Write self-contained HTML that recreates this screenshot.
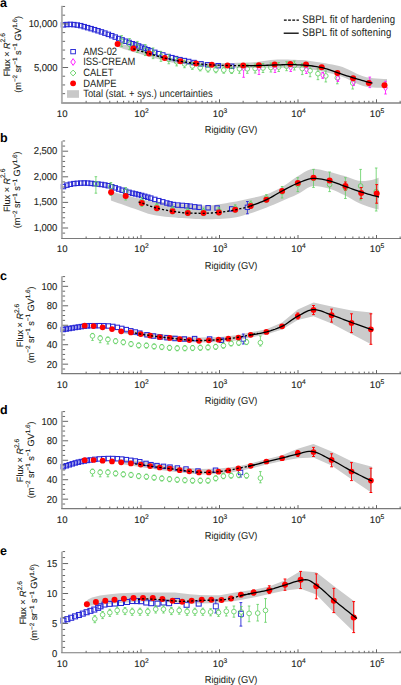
<!DOCTYPE html>
<html><head><meta charset="utf-8"><style>
html,body{margin:0;padding:0;background:#fff;}
svg{display:block;text-rendering:geometricPrecision;}
.t{font-family:"Liberation Sans", sans-serif;font-size:9.1px;fill:#231f20;stroke:#231f20;stroke-width:0.12px;}
.t2{font-family:"Liberation Sans", sans-serif;font-size:9.4px;fill:#231f20;}
.t3{font-family:"Liberation Sans", sans-serif;font-size:9.6px;letter-spacing:0.12px;fill:#231f20;stroke:#231f20;stroke-width:0.04px;}
.ty{font-family:"Liberation Sans", sans-serif;font-size:9.45px;fill:#231f20;stroke:#231f20;stroke-width:0.12px;}
.tx{font-family:"Liberation Sans", sans-serif;font-size:9.6px;fill:#231f20;stroke:#231f20;stroke-width:0.12px;}
.tr{font-family:"Liberation Sans", sans-serif;font-size:9.3px;fill:#231f20;stroke:#231f20;stroke-width:0.05px;}
.sup2{font-size:6.3px;}
.sup{font-size:6.7px;}
.L{font-family:"Liberation Sans", sans-serif;font-size:12.5px;font-weight:bold;fill:#000;}
</style></head><body>
<svg width="401" height="685" viewBox="0 0 401 685">
<path d="M117.00 42.00 L120.42 43.20 L123.84 44.38 L127.25 45.53 L130.67 46.65 L134.09 47.73 L137.51 48.77 L140.92 49.77 L144.34 50.76 L147.76 51.77 L151.18 52.78 L154.59 53.77 L158.01 54.74 L161.43 55.67 L164.85 56.55 L168.27 57.36 L171.68 58.10 L175.10 58.75 L178.52 59.30 L181.94 59.75 L185.35 60.19 L188.77 60.62 L192.19 61.04 L195.61 61.44 L199.03 61.80 L202.44 62.13 L205.86 62.42 L209.28 62.65 L212.70 62.83 L216.11 62.95 L219.53 63.00 L222.95 62.99 L226.37 62.97 L229.78 62.94 L233.20 62.89 L236.62 62.83 L240.04 62.76 L243.46 62.68 L246.87 62.59 L250.29 62.49 L253.71 62.29 L257.13 61.95 L260.54 61.52 L263.96 61.04 L267.38 60.56 L270.80 60.12 L274.22 59.77 L277.63 59.55 L281.05 59.50 L284.47 59.53 L287.89 59.59 L291.30 59.68 L294.72 59.79 L298.14 59.92 L301.56 60.08 L304.97 60.36 L308.39 60.76 L311.81 61.24 L315.23 61.76 L318.65 62.29 L322.06 62.82 L325.48 63.36 L328.90 63.95 L332.32 64.59 L335.73 65.30 L339.15 66.09 L342.57 67.07 L345.99 68.42 L349.41 70.02 L352.82 71.74 L356.24 73.46 L359.66 75.03 L363.08 76.34 L366.49 77.26 L369.91 77.74 L373.33 78.14 L376.75 78.48 L380.16 78.76 L383.58 78.94 L387.00 79.00 L387.00 88.00 L383.58 87.96 L380.16 87.84 L376.75 87.67 L373.33 87.44 L369.91 87.17 L366.49 86.81 L363.08 86.02 L359.66 84.82 L356.24 83.32 L352.82 81.66 L349.41 79.96 L345.99 78.32 L342.57 76.88 L339.15 75.75 L335.73 74.75 L332.32 73.81 L328.90 72.94 L325.48 72.13 L322.06 71.40 L318.65 70.74 L315.23 70.07 L311.81 69.42 L308.39 68.84 L304.97 68.37 L301.56 68.07 L298.14 67.95 L294.72 67.87 L291.30 67.80 L287.89 67.75 L284.47 67.72 L281.05 67.70 L277.63 67.71 L274.22 67.73 L270.80 67.77 L267.38 67.81 L263.96 67.87 L260.54 67.91 L257.13 67.96 L253.71 67.99 L250.29 68.00 L246.87 67.99 L243.46 67.97 L240.04 67.93 L236.62 67.88 L233.20 67.82 L229.78 67.75 L226.37 67.67 L222.95 67.58 L219.53 67.49 L216.11 67.36 L212.70 67.19 L209.28 66.97 L205.86 66.71 L202.44 66.42 L199.03 66.09 L195.61 65.73 L192.19 65.34 L188.77 64.93 L185.35 64.50 L181.94 64.06 L178.52 63.59 L175.10 63.04 L171.68 62.39 L168.27 61.67 L164.85 60.87 L161.43 60.02 L158.01 59.12 L154.59 58.18 L151.18 57.21 L147.76 56.23 L144.34 55.24 L140.92 54.26 L137.51 53.28 L134.09 52.25 L130.67 51.17 L127.25 50.04 L123.84 48.89 L120.42 47.71 L117.00 46.50Z" fill="#cbcbcb"/>
<rect x="61.30" y="22.66" width="4.4" height="4.4" fill="none" stroke="#2727d6" stroke-width="1.05"/>
<rect x="64.75" y="22.33" width="4.4" height="4.4" fill="none" stroke="#2727d6" stroke-width="1.05"/>
<rect x="68.20" y="22.20" width="4.4" height="4.4" fill="none" stroke="#2727d6" stroke-width="1.05"/>
<rect x="71.65" y="22.41" width="4.4" height="4.4" fill="none" stroke="#2727d6" stroke-width="1.05"/>
<rect x="75.10" y="22.86" width="4.4" height="4.4" fill="none" stroke="#2727d6" stroke-width="1.05"/>
<rect x="78.55" y="23.45" width="4.4" height="4.4" fill="none" stroke="#2727d6" stroke-width="1.05"/>
<rect x="82.00" y="24.46" width="4.4" height="4.4" fill="none" stroke="#2727d6" stroke-width="1.05"/>
<rect x="85.45" y="25.46" width="4.4" height="4.4" fill="none" stroke="#2727d6" stroke-width="1.05"/>
<rect x="88.90" y="26.45" width="4.4" height="4.4" fill="none" stroke="#2727d6" stroke-width="1.05"/>
<rect x="92.35" y="27.48" width="4.4" height="4.4" fill="none" stroke="#2727d6" stroke-width="1.05"/>
<rect x="95.80" y="28.56" width="4.4" height="4.4" fill="none" stroke="#2727d6" stroke-width="1.05"/>
<rect x="99.25" y="29.71" width="4.4" height="4.4" fill="none" stroke="#2727d6" stroke-width="1.05"/>
<rect x="102.70" y="30.92" width="4.4" height="4.4" fill="none" stroke="#2727d6" stroke-width="1.05"/>
<rect x="106.15" y="32.18" width="4.4" height="4.4" fill="none" stroke="#2727d6" stroke-width="1.05"/>
<rect x="109.60" y="33.49" width="4.4" height="4.4" fill="none" stroke="#2727d6" stroke-width="1.05"/>
<rect x="113.05" y="34.89" width="4.4" height="4.4" fill="none" stroke="#2727d6" stroke-width="1.05"/>
<rect x="116.50" y="36.32" width="4.4" height="4.4" fill="none" stroke="#2727d6" stroke-width="1.05"/>
<rect x="119.95" y="37.70" width="4.4" height="4.4" fill="none" stroke="#2727d6" stroke-width="1.05"/>
<rect x="123.40" y="39.01" width="4.4" height="4.4" fill="none" stroke="#2727d6" stroke-width="1.05"/>
<rect x="126.85" y="40.27" width="4.4" height="4.4" fill="none" stroke="#2727d6" stroke-width="1.05"/>
<rect x="130.30" y="41.54" width="4.4" height="4.4" fill="none" stroke="#2727d6" stroke-width="1.05"/>
<rect x="133.35" y="42.65" width="4.4" height="4.4" fill="none" stroke="#2727d6" stroke-width="1.05"/>
<rect x="136.40" y="43.77" width="4.4" height="4.4" fill="none" stroke="#2727d6" stroke-width="1.05"/>
<rect x="139.45" y="44.96" width="4.4" height="4.4" fill="none" stroke="#2727d6" stroke-width="1.05"/>
<rect x="142.50" y="46.24" width="4.4" height="4.4" fill="none" stroke="#2727d6" stroke-width="1.05"/>
<rect x="145.55" y="47.52" width="4.4" height="4.4" fill="none" stroke="#2727d6" stroke-width="1.05"/>
<rect x="148.60" y="48.70" width="4.4" height="4.4" fill="none" stroke="#2727d6" stroke-width="1.05"/>
<rect x="152.60" y="50.13" width="4.4" height="4.4" fill="none" stroke="#2727d6" stroke-width="1.05"/>
<rect x="156.60" y="51.48" width="4.4" height="4.4" fill="none" stroke="#2727d6" stroke-width="1.05"/>
<rect x="160.60" y="52.76" width="4.4" height="4.4" fill="none" stroke="#2727d6" stroke-width="1.05"/>
<rect x="165.80" y="54.33" width="4.4" height="4.4" fill="none" stroke="#2727d6" stroke-width="1.05"/>
<rect x="169.70" y="55.44" width="4.4" height="4.4" fill="none" stroke="#2727d6" stroke-width="1.05"/>
<rect x="173.40" y="56.40" width="4.4" height="4.4" fill="none" stroke="#2727d6" stroke-width="1.05"/>
<rect x="177.80" y="57.44" width="4.4" height="4.4" fill="none" stroke="#2727d6" stroke-width="1.05"/>
<rect x="182.20" y="58.39" width="4.4" height="4.4" fill="none" stroke="#2727d6" stroke-width="1.05"/>
<rect x="186.50" y="59.29" width="4.4" height="4.4" fill="none" stroke="#2727d6" stroke-width="1.05"/>
<rect x="191.80" y="60.35" width="4.4" height="4.4" fill="none" stroke="#2727d6" stroke-width="1.05"/>
<rect x="198.80" y="61.60" width="4.4" height="4.4" fill="none" stroke="#2727d6" stroke-width="1.05"/>
<rect x="205.50" y="62.60" width="4.4" height="4.4" fill="none" stroke="#2727d6" stroke-width="1.05"/>
<rect x="216.00" y="63.50" width="4.4" height="4.4" fill="none" stroke="#2727d6" stroke-width="1.05"/>
<rect x="229.50" y="64.10" width="4.4" height="4.4" fill="none" stroke="#2727d6" stroke-width="1.05"/>
<path d="M121.70 35.63V38.88M121.70 43.58V46.63M120.40 35.63h2.6M120.40 46.63h2.6" stroke="#5fcf5f" stroke-width="0.8"/>
<circle cx="121.70" cy="41.23" r="2.35" fill="none" stroke="#5fcf5f" stroke-width="0.85"/>
<path d="M129.55 38.56V41.81M129.55 46.51V49.56M128.25 38.56h2.6M128.25 49.56h2.6" stroke="#5fcf5f" stroke-width="0.8"/>
<circle cx="129.55" cy="44.16" r="2.35" fill="none" stroke="#5fcf5f" stroke-width="0.85"/>
<path d="M137.40 41.42V44.67M137.40 49.37V52.42M136.10 41.42h2.6M136.10 52.42h2.6" stroke="#5fcf5f" stroke-width="0.8"/>
<circle cx="137.40" cy="47.02" r="2.35" fill="none" stroke="#5fcf5f" stroke-width="0.85"/>
<path d="M145.25 44.57V47.82M145.25 52.52V55.57M143.95 44.57h2.6M143.95 55.57h2.6" stroke="#5fcf5f" stroke-width="0.8"/>
<circle cx="145.25" cy="50.17" r="2.35" fill="none" stroke="#5fcf5f" stroke-width="0.85"/>
<path d="M153.10 47.95V51.04M153.10 55.74V58.65M151.80 47.95h2.6M151.80 58.65h2.6" stroke="#5fcf5f" stroke-width="0.8"/>
<circle cx="153.10" cy="53.39" r="2.35" fill="none" stroke="#5fcf5f" stroke-width="0.85"/>
<path d="M160.95 51.41V54.09M160.95 58.79V61.34M159.65 51.41h2.6M159.65 61.34h2.6" stroke="#5fcf5f" stroke-width="0.8"/>
<circle cx="160.95" cy="56.44" r="2.35" fill="none" stroke="#5fcf5f" stroke-width="0.85"/>
<path d="M168.80 54.62V56.89M168.80 61.59V63.78M167.50 54.62h2.6M167.50 63.78h2.6" stroke="#5fcf5f" stroke-width="0.8"/>
<circle cx="168.80" cy="59.24" r="2.35" fill="none" stroke="#5fcf5f" stroke-width="0.85"/>
<path d="M176.65 57.53V59.39M176.65 64.09V65.92M175.35 57.53h2.6M175.35 65.92h2.6" stroke="#5fcf5f" stroke-width="0.8"/>
<circle cx="176.65" cy="61.74" r="2.35" fill="none" stroke="#5fcf5f" stroke-width="0.85"/>
<path d="M184.50 60.10V61.56M184.50 66.26V67.72M183.20 60.10h2.6M183.20 67.72h2.6" stroke="#5fcf5f" stroke-width="0.8"/>
<circle cx="184.50" cy="63.91" r="2.35" fill="none" stroke="#5fcf5f" stroke-width="0.85"/>
<path d="M192.35 62.53V63.58M192.35 68.28V69.38M191.05 62.53h2.6M191.05 69.38h2.6" stroke="#5fcf5f" stroke-width="0.8"/>
<circle cx="192.35" cy="65.93" r="2.35" fill="none" stroke="#5fcf5f" stroke-width="0.85"/>
<path d="M200.20 64.77V65.42M200.20 70.12V70.87M198.90 64.77h2.6M198.90 70.87h2.6" stroke="#5fcf5f" stroke-width="0.8"/>
<circle cx="200.20" cy="67.77" r="2.35" fill="none" stroke="#5fcf5f" stroke-width="0.85"/>
<path d="M208.05 65.94V66.59M208.05 71.29V72.04M206.75 65.94h2.6M206.75 72.04h2.6" stroke="#5fcf5f" stroke-width="0.8"/>
<circle cx="208.05" cy="68.94" r="2.35" fill="none" stroke="#5fcf5f" stroke-width="0.85"/>
<path d="M215.90 66.65V67.30M215.90 72.00V72.75M214.60 66.65h2.6M214.60 72.75h2.6" stroke="#5fcf5f" stroke-width="0.8"/>
<circle cx="215.90" cy="69.65" r="2.35" fill="none" stroke="#5fcf5f" stroke-width="0.85"/>
<path d="M223.75 67.11V67.76M223.75 72.46V73.21M222.45 67.11h2.6M222.45 73.21h2.6" stroke="#5fcf5f" stroke-width="0.8"/>
<circle cx="223.75" cy="70.11" r="2.35" fill="none" stroke="#5fcf5f" stroke-width="0.85"/>
<path d="M231.60 67.40V68.05M231.60 72.75V73.50M230.30 67.40h2.6M230.30 73.50h2.6" stroke="#5fcf5f" stroke-width="0.8"/>
<circle cx="231.60" cy="70.40" r="2.35" fill="none" stroke="#5fcf5f" stroke-width="0.85"/>
<path d="M239.45 64.30V66.45M239.45 71.15V73.30M238.15 64.30h2.6M238.15 73.30h2.6" stroke="#5fcf5f" stroke-width="0.8"/>
<circle cx="239.45" cy="68.80" r="2.35" fill="none" stroke="#5fcf5f" stroke-width="0.85"/>
<path d="M247.30 64.30V66.45M247.30 71.15V73.30M246.00 64.30h2.6M246.00 73.30h2.6" stroke="#5fcf5f" stroke-width="0.8"/>
<circle cx="247.30" cy="68.80" r="2.35" fill="none" stroke="#5fcf5f" stroke-width="0.85"/>
<path d="M255.15 64.04V66.19M255.15 70.89V73.04M253.85 64.04h2.6M253.85 73.04h2.6" stroke="#5fcf5f" stroke-width="0.8"/>
<circle cx="255.15" cy="68.54" r="2.35" fill="none" stroke="#5fcf5f" stroke-width="0.85"/>
<path d="M263.00 63.50V65.65M263.00 70.35V72.50M261.70 63.50h2.6M261.70 72.50h2.6" stroke="#5fcf5f" stroke-width="0.8"/>
<circle cx="263.00" cy="68.00" r="2.35" fill="none" stroke="#5fcf5f" stroke-width="0.85"/>
<path d="M270.85 63.01V65.16M270.85 69.86V72.01M269.55 63.01h2.6M269.55 72.01h2.6" stroke="#5fcf5f" stroke-width="0.8"/>
<circle cx="270.85" cy="67.51" r="2.35" fill="none" stroke="#5fcf5f" stroke-width="0.85"/>
<path d="M278.70 62.52V64.67M278.70 69.37V71.52M277.40 62.52h2.6M277.40 71.52h2.6" stroke="#5fcf5f" stroke-width="0.8"/>
<circle cx="278.70" cy="67.02" r="2.35" fill="none" stroke="#5fcf5f" stroke-width="0.85"/>
<path d="M286.55 61.70V63.85M286.55 68.55V70.70M285.25 61.70h2.6M285.25 70.70h2.6" stroke="#5fcf5f" stroke-width="0.8"/>
<circle cx="286.55" cy="66.20" r="2.35" fill="none" stroke="#5fcf5f" stroke-width="0.85"/>
<path d="M294.40 61.00V63.15M294.40 67.85V70.00M293.10 61.00h2.6M293.10 70.00h2.6" stroke="#5fcf5f" stroke-width="0.8"/>
<circle cx="294.40" cy="65.50" r="2.35" fill="none" stroke="#5fcf5f" stroke-width="0.85"/>
<path d="M302.25 63.58V66.23M302.25 70.93V74.58M300.95 63.58h2.6M300.95 74.58h2.6" stroke="#5fcf5f" stroke-width="0.8"/>
<circle cx="302.25" cy="68.58" r="2.35" fill="none" stroke="#5fcf5f" stroke-width="0.85"/>
<path d="M310.10 65.73V68.38M310.10 73.08V76.73M308.80 65.73h2.6M308.80 76.73h2.6" stroke="#5fcf5f" stroke-width="0.8"/>
<circle cx="310.10" cy="70.73" r="2.35" fill="none" stroke="#5fcf5f" stroke-width="0.85"/>
<path d="M317.95 68.68V71.33M317.95 76.03V79.68M316.65 68.68h2.6M316.65 79.68h2.6" stroke="#5fcf5f" stroke-width="0.8"/>
<circle cx="317.95" cy="73.68" r="2.35" fill="none" stroke="#5fcf5f" stroke-width="0.85"/>
<path d="M325.80 70.96V73.61M325.80 78.31V81.96M324.50 70.96h2.6M324.50 81.96h2.6" stroke="#5fcf5f" stroke-width="0.8"/>
<circle cx="325.80" cy="75.96" r="2.35" fill="none" stroke="#5fcf5f" stroke-width="0.85"/>
<path d="M337.30 72.80V75.45M337.30 80.15V83.80M336.00 72.80h2.6M336.00 83.80h2.6" stroke="#5fcf5f" stroke-width="0.8"/>
<circle cx="337.30" cy="77.80" r="2.35" fill="none" stroke="#5fcf5f" stroke-width="0.85"/>
<path d="M352.70 78.00V80.65M352.70 85.35V89.00M351.40 78.00h2.6M351.40 89.00h2.6" stroke="#5fcf5f" stroke-width="0.8"/>
<circle cx="352.70" cy="83.00" r="2.35" fill="none" stroke="#5fcf5f" stroke-width="0.85"/>
<path d="M243.60 64.00V65.20M243.60 71.20V77.30M242.30 64.00h2.6M242.30 77.30h2.6" stroke="#ff22ff" stroke-width="0.9"/>
<path d="M243.60 65.20L245.50 68.20L243.60 71.20L241.70 68.20Z" fill="none" stroke="#ff22ff" stroke-width="0.9"/>
<path d="M259.00 64.00V65.00M259.00 71.00V74.50M257.70 64.00h2.6M257.70 74.50h2.6" stroke="#ff22ff" stroke-width="0.9"/>
<path d="M259.00 65.00L260.90 68.00L259.00 71.00L257.10 68.00Z" fill="none" stroke="#ff22ff" stroke-width="0.9"/>
<path d="M275.00 63.50V64.80M275.00 70.80V72.50M273.70 63.50h2.6M273.70 72.50h2.6" stroke="#ff22ff" stroke-width="0.9"/>
<path d="M275.00 64.80L276.90 67.80L275.00 70.80L273.10 67.80Z" fill="none" stroke="#ff22ff" stroke-width="0.9"/>
<path d="M290.70 65.00V64.50M290.70 70.50V71.50M289.40 65.00h2.6M289.40 71.50h2.6" stroke="#ff22ff" stroke-width="0.9"/>
<path d="M290.70 64.50L292.60 67.50L290.70 70.50L288.80 67.50Z" fill="none" stroke="#ff22ff" stroke-width="0.9"/>
<path d="M306.40 67.00V66.50M306.40 72.50V73.50M305.10 67.00h2.6M305.10 73.50h2.6" stroke="#ff22ff" stroke-width="0.9"/>
<path d="M306.40 66.50L308.30 69.50L306.40 72.50L304.50 69.50Z" fill="none" stroke="#ff22ff" stroke-width="0.9"/>
<path d="M322.70 72.50V72.20M322.70 78.20V78.30M321.40 72.50h2.6M321.40 78.30h2.6" stroke="#ff22ff" stroke-width="0.9"/>
<path d="M322.70 72.20L324.60 75.20L322.70 78.20L320.80 75.20Z" fill="none" stroke="#ff22ff" stroke-width="0.9"/>
<path d="M337.90 75.50V75.30M337.90 81.30V81.50M336.60 75.50h2.6M336.60 81.50h2.6" stroke="#ff22ff" stroke-width="0.9"/>
<path d="M337.90 75.30L339.80 78.30L337.90 81.30L336.00 78.30Z" fill="none" stroke="#ff22ff" stroke-width="0.9"/>
<path d="M353.60 78.50V78.80M353.60 84.80V85.50M352.30 78.50h2.6M352.30 85.50h2.6" stroke="#ff22ff" stroke-width="0.9"/>
<path d="M353.60 78.80L355.50 81.80L353.60 84.80L351.70 81.80Z" fill="none" stroke="#ff22ff" stroke-width="0.9"/>
<path d="M369.80 77.10V79.70M369.80 85.70V87.60M368.50 77.10h2.6M368.50 87.60h2.6" stroke="#ff22ff" stroke-width="0.9"/>
<path d="M369.80 79.70L371.70 82.70L369.80 85.70L367.90 82.70Z" fill="none" stroke="#ff22ff" stroke-width="0.9"/>
<path d="M385.50 81.30V84.90M385.50 90.90V94.00M384.20 81.30h2.6M384.20 94.00h2.6" stroke="#ff22ff" stroke-width="0.9"/>
<path d="M385.50 84.90L387.40 87.90L385.50 90.90L383.60 87.90Z" fill="none" stroke="#ff22ff" stroke-width="0.9"/>
<circle cx="117.60" cy="44.00" r="3.0" fill="#ff0000"/>
<circle cx="133.30" cy="48.60" r="3.0" fill="#ff0000"/>
<circle cx="149.00" cy="53.50" r="3.0" fill="#ff0000"/>
<circle cx="164.70" cy="58.00" r="3.0" fill="#ff0000"/>
<circle cx="180.40" cy="61.30" r="3.0" fill="#ff0000"/>
<circle cx="196.10" cy="63.60" r="3.0" fill="#ff0000"/>
<circle cx="211.80" cy="64.80" r="3.0" fill="#ff0000"/>
<circle cx="227.50" cy="65.50" r="3.0" fill="#ff0000"/>
<circle cx="243.20" cy="65.50" r="3.0" fill="#ff0000"/>
<circle cx="258.90" cy="65.20" r="3.0" fill="#ff0000"/>
<circle cx="274.60" cy="64.40" r="3.0" fill="#ff0000"/>
<circle cx="290.30" cy="64.00" r="3.0" fill="#ff0000"/>
<circle cx="306.00" cy="64.40" r="3.0" fill="#ff0000"/>
<circle cx="321.70" cy="67.20" r="3.0" fill="#ff0000"/>
<circle cx="337.40" cy="73.10" r="3.0" fill="#ff0000"/>
<circle cx="353.10" cy="78.30" r="3.0" fill="#ff0000"/>
<circle cx="368.80" cy="83.00" r="3.0" fill="#ff0000"/>
<circle cx="384.50" cy="85.20" r="3.0" fill="#ff0000"/>
<path d="M133.30 48.80 L135.38 49.46 L137.46 50.11 L139.54 50.76 L141.62 51.39 L143.70 52.03 L145.78 52.65 L147.86 53.26 L149.94 53.87 L152.02 54.49 L154.10 55.10 L156.18 55.71 L158.26 56.30 L160.34 56.88 L162.42 57.43 L164.49 57.95 L166.57 58.45 L168.65 58.93 L170.73 59.39 L172.81 59.84 L174.89 60.27 L176.97 60.68 L179.05 61.06 L181.13 61.43 L183.21 61.78 L185.29 62.12 L187.37 62.45 L189.45 62.76 L191.53 63.05 L193.61 63.32 L195.69 63.56 L197.77 63.77 L199.85 63.98 L201.93 64.18 L204.01 64.36 L206.09 64.53 L208.17 64.68 L210.25 64.81 L212.33 64.93 L214.41 65.03 L216.49 65.13 L218.57 65.22 L220.65 65.30 L222.73 65.38 L224.81 65.44 L226.88 65.49 L228.96 65.53 L231.04 65.57 L233.12 65.60 L235.20 65.64 L237.28 65.66 L239.36 65.68 L241.44 65.70 L243.52 65.70 L245.60 65.70 L247.68 65.69 L249.76 65.68 L251.84 65.66 L253.92 65.63 L256.00 65.60" fill="none" stroke="#000" stroke-width="1.3" stroke-dasharray="2.2,1.9"/>
<path d="M246.00 65.70 L248.14 65.68 L250.29 65.65 L252.43 65.62 L254.58 65.58 L256.72 65.54 L258.86 65.50 L261.01 65.45 L263.15 65.39 L265.30 65.32 L267.44 65.24 L269.58 65.16 L271.73 65.09 L273.87 65.02 L276.02 64.96 L278.16 64.89 L280.31 64.81 L282.45 64.74 L284.59 64.68 L286.74 64.63 L288.88 64.61 L291.03 64.60 L293.17 64.63 L295.31 64.69 L297.46 64.78 L299.60 64.89 L301.75 65.02 L303.89 65.16 L306.03 65.30 L308.18 65.48 L310.32 65.71 L312.47 65.99 L314.61 66.31 L316.75 66.67 L318.90 67.06 L321.04 67.47 L323.19 67.93 L325.33 68.50 L327.47 69.16 L329.62 69.88 L331.76 70.64 L333.91 71.40 L336.05 72.15 L338.19 72.86 L340.34 73.57 L342.48 74.30 L344.63 75.03 L346.77 75.76 L348.92 76.47 L351.06 77.17 L353.20 77.83 L355.35 78.48 L357.49 79.11 L359.64 79.73 L361.78 80.35 L363.92 80.94 L366.07 81.53 L368.21 82.10 L370.36 82.66 L372.50 83.20" fill="none" stroke="#000" stroke-width="1.3"/>
<path d="M110.90 191.50 L114.29 192.34 L117.68 193.18 L121.07 194.02 L124.45 194.86 L127.84 195.72 L131.23 196.58 L134.62 197.44 L138.01 198.28 L141.40 199.09 L144.79 199.95 L148.17 200.71 L151.56 201.18 L154.95 201.47 L158.34 201.71 L161.73 201.98 L165.12 202.32 L168.51 202.71 L171.89 203.13 L175.28 203.55 L178.67 203.94 L182.06 204.28 L185.45 204.53 L188.84 204.75 L192.23 204.96 L195.62 205.16 L199.00 205.32 L202.39 205.44 L205.78 205.50 L209.17 205.45 L212.56 205.22 L215.95 204.83 L219.34 204.32 L222.72 203.75 L226.11 203.15 L229.50 202.58 L232.89 202.02 L236.28 201.40 L239.67 200.73 L243.06 200.02 L246.44 199.29 L249.83 198.54 L253.22 197.79 L256.61 197.04 L260.00 196.22 L263.39 195.29 L266.78 194.20 L270.16 192.88 L273.55 191.37 L276.94 189.70 L280.33 187.91 L283.72 185.98 L287.11 183.66 L290.50 181.13 L293.88 178.63 L297.27 176.42 L300.66 174.42 L304.05 172.32 L307.44 170.44 L310.83 169.16 L314.22 168.81 L317.61 169.14 L320.99 169.81 L324.38 170.66 L327.77 171.56 L331.16 172.37 L334.55 173.24 L337.94 174.17 L341.33 175.13 L344.71 176.10 L348.10 177.19 L351.49 178.51 L354.88 179.78 L358.27 180.70 L361.66 181.00 L365.05 180.88 L368.43 180.54 L371.82 179.94 L375.21 179.00 L378.60 177.70 L378.60 209.60 L375.21 208.79 L371.82 207.82 L368.43 206.71 L365.05 205.49 L361.66 204.18 L358.27 202.68 L354.88 200.89 L351.49 198.97 L348.10 197.08 L344.71 195.37 L341.33 193.68 L337.94 192.01 L334.55 190.48 L331.16 189.24 L327.77 188.34 L324.38 187.51 L320.99 186.79 L317.61 186.26 L314.22 186.01 L310.83 186.45 L307.44 188.03 L304.05 190.23 L300.66 192.51 L297.27 194.34 L293.88 195.89 L290.50 197.37 L287.11 198.82 L283.72 200.26 L280.33 201.72 L276.94 203.20 L273.55 204.67 L270.16 206.12 L266.78 207.50 L263.39 208.82 L260.00 210.11 L256.61 211.36 L253.22 212.51 L249.83 213.55 L246.44 214.54 L243.06 215.52 L239.67 216.45 L236.28 217.25 L232.89 217.87 L229.50 218.24 L226.11 218.50 L222.72 218.74 L219.34 218.94 L215.95 219.10 L212.56 219.22 L209.17 219.29 L205.78 219.29 L202.39 219.23 L199.00 219.11 L195.62 218.94 L192.23 218.75 L188.84 218.54 L185.45 218.33 L182.06 218.12 L178.67 217.88 L175.28 217.62 L171.89 217.33 L168.51 217.01 L165.12 216.66 L161.73 216.27 L158.34 215.81 L154.95 215.24 L151.56 214.56 L148.17 213.69 L144.79 212.45 L141.40 211.14 L138.01 209.96 L134.62 208.81 L131.23 207.65 L127.84 206.49 L124.45 205.31 L121.07 204.10 L117.68 202.88 L114.29 201.65 L110.90 200.40Z" fill="#cbcbcb"/>
<rect x="61.30" y="184.36" width="4.4" height="4.4" fill="none" stroke="#2727d6" stroke-width="1.05"/>
<rect x="64.75" y="182.96" width="4.4" height="4.4" fill="none" stroke="#2727d6" stroke-width="1.05"/>
<rect x="68.20" y="182.06" width="4.4" height="4.4" fill="none" stroke="#2727d6" stroke-width="1.05"/>
<rect x="71.65" y="181.42" width="4.4" height="4.4" fill="none" stroke="#2727d6" stroke-width="1.05"/>
<rect x="75.10" y="181.12" width="4.4" height="4.4" fill="none" stroke="#2727d6" stroke-width="1.05"/>
<rect x="78.55" y="180.91" width="4.4" height="4.4" fill="none" stroke="#2727d6" stroke-width="1.05"/>
<rect x="82.00" y="180.80" width="4.4" height="4.4" fill="none" stroke="#2727d6" stroke-width="1.05"/>
<rect x="85.45" y="180.89" width="4.4" height="4.4" fill="none" stroke="#2727d6" stroke-width="1.05"/>
<rect x="88.90" y="181.19" width="4.4" height="4.4" fill="none" stroke="#2727d6" stroke-width="1.05"/>
<rect x="92.35" y="181.56" width="4.4" height="4.4" fill="none" stroke="#2727d6" stroke-width="1.05"/>
<rect x="95.80" y="181.89" width="4.4" height="4.4" fill="none" stroke="#2727d6" stroke-width="1.05"/>
<rect x="99.25" y="182.28" width="4.4" height="4.4" fill="none" stroke="#2727d6" stroke-width="1.05"/>
<rect x="102.70" y="182.78" width="4.4" height="4.4" fill="none" stroke="#2727d6" stroke-width="1.05"/>
<rect x="106.15" y="183.55" width="4.4" height="4.4" fill="none" stroke="#2727d6" stroke-width="1.05"/>
<rect x="109.60" y="184.54" width="4.4" height="4.4" fill="none" stroke="#2727d6" stroke-width="1.05"/>
<rect x="113.05" y="185.65" width="4.4" height="4.4" fill="none" stroke="#2727d6" stroke-width="1.05"/>
<rect x="116.50" y="186.87" width="4.4" height="4.4" fill="none" stroke="#2727d6" stroke-width="1.05"/>
<rect x="119.95" y="188.00" width="4.4" height="4.4" fill="none" stroke="#2727d6" stroke-width="1.05"/>
<rect x="123.40" y="189.11" width="4.4" height="4.4" fill="none" stroke="#2727d6" stroke-width="1.05"/>
<rect x="126.85" y="190.14" width="4.4" height="4.4" fill="none" stroke="#2727d6" stroke-width="1.05"/>
<rect x="130.30" y="191.03" width="4.4" height="4.4" fill="none" stroke="#2727d6" stroke-width="1.05"/>
<rect x="133.35" y="191.73" width="4.4" height="4.4" fill="none" stroke="#2727d6" stroke-width="1.05"/>
<rect x="136.40" y="192.45" width="4.4" height="4.4" fill="none" stroke="#2727d6" stroke-width="1.05"/>
<rect x="139.45" y="193.24" width="4.4" height="4.4" fill="none" stroke="#2727d6" stroke-width="1.05"/>
<rect x="142.50" y="194.12" width="4.4" height="4.4" fill="none" stroke="#2727d6" stroke-width="1.05"/>
<rect x="145.55" y="195.02" width="4.4" height="4.4" fill="none" stroke="#2727d6" stroke-width="1.05"/>
<rect x="148.60" y="195.94" width="4.4" height="4.4" fill="none" stroke="#2727d6" stroke-width="1.05"/>
<rect x="152.60" y="197.21" width="4.4" height="4.4" fill="none" stroke="#2727d6" stroke-width="1.05"/>
<rect x="156.60" y="198.45" width="4.4" height="4.4" fill="none" stroke="#2727d6" stroke-width="1.05"/>
<rect x="160.60" y="199.61" width="4.4" height="4.4" fill="none" stroke="#2727d6" stroke-width="1.05"/>
<rect x="164.60" y="200.80" width="4.4" height="4.4" fill="none" stroke="#2727d6" stroke-width="1.05"/>
<rect x="167.80" y="201.65" width="4.4" height="4.4" fill="none" stroke="#2727d6" stroke-width="1.05"/>
<rect x="171.20" y="202.36" width="4.4" height="4.4" fill="none" stroke="#2727d6" stroke-width="1.05"/>
<rect x="175.60" y="202.89" width="4.4" height="4.4" fill="none" stroke="#2727d6" stroke-width="1.05"/>
<rect x="180.10" y="203.23" width="4.4" height="4.4" fill="none" stroke="#2727d6" stroke-width="1.05"/>
<rect x="184.60" y="203.60" width="4.4" height="4.4" fill="none" stroke="#2727d6" stroke-width="1.05"/>
<rect x="188.00" y="204.01" width="4.4" height="4.4" fill="none" stroke="#2727d6" stroke-width="1.05"/>
<rect x="192.50" y="204.64" width="4.4" height="4.4" fill="none" stroke="#2727d6" stroke-width="1.05"/>
<rect x="196.90" y="205.11" width="4.4" height="4.4" fill="none" stroke="#2727d6" stroke-width="1.05"/>
<rect x="205.90" y="205.60" width="4.4" height="4.4" fill="none" stroke="#2727d6" stroke-width="1.05"/>
<rect x="214.90" y="205.80" width="4.4" height="4.4" fill="none" stroke="#2727d6" stroke-width="1.05"/>
<rect x="229.50" y="206.70" width="4.4" height="4.4" fill="none" stroke="#2727d6" stroke-width="1.05"/>
<path d="M247.40 201.50V205.10M247.40 209.50V213.80M246.00 201.50h2.8M246.00 213.80h2.8" stroke="#2727d6" stroke-width="0.9"/>
<rect x="245.20" y="205.10" width="4.4" height="4.4" fill="none" stroke="#2727d6" stroke-width="0.9"/>
<path d="M95.90 176.70V181.45M95.90 186.15V193.20M94.60 176.70h2.6M94.60 193.20h2.6" stroke="#5fcf5f" stroke-width="0.8"/>
<circle cx="95.90" cy="183.80" r="2.35" fill="none" stroke="#5fcf5f" stroke-width="0.85"/>
<path d="M110.90 182.50V184.15M110.90 188.85V195.50M109.60 182.50h2.6M109.60 195.50h2.6" stroke="#5fcf5f" stroke-width="0.8"/>
<circle cx="110.90" cy="186.50" r="2.35" fill="none" stroke="#5fcf5f" stroke-width="0.85"/>
<path d="M125.70 187.50V189.05M125.70 193.75V200.00M124.40 187.50h2.6M124.40 200.00h2.6" stroke="#5fcf5f" stroke-width="0.8"/>
<circle cx="125.70" cy="191.40" r="2.35" fill="none" stroke="#5fcf5f" stroke-width="0.85"/>
<path d="M141.80 197.50V199.15M141.80 203.85V206.50M140.50 197.50h2.6M140.50 206.50h2.6" stroke="#5fcf5f" stroke-width="0.8"/>
<circle cx="141.80" cy="201.50" r="2.35" fill="none" stroke="#5fcf5f" stroke-width="0.85"/>
<path d="M156.80 203.20V204.35M156.80 209.05V210.70M155.50 203.20h2.6M155.50 210.70h2.6" stroke="#5fcf5f" stroke-width="0.8"/>
<circle cx="156.80" cy="206.70" r="2.35" fill="none" stroke="#5fcf5f" stroke-width="0.85"/>
<path d="M172.50 206.30V207.45M172.50 212.15V213.80M171.20 206.30h2.6M171.20 213.80h2.6" stroke="#5fcf5f" stroke-width="0.8"/>
<circle cx="172.50" cy="209.80" r="2.35" fill="none" stroke="#5fcf5f" stroke-width="0.85"/>
<path d="M187.80 208.10V209.25M187.80 213.95V215.60M186.50 208.10h2.6M186.50 215.60h2.6" stroke="#5fcf5f" stroke-width="0.8"/>
<circle cx="187.80" cy="211.60" r="2.35" fill="none" stroke="#5fcf5f" stroke-width="0.85"/>
<path d="M203.50 208.10V209.25M203.50 213.95V215.60M202.20 208.10h2.6M202.20 215.60h2.6" stroke="#5fcf5f" stroke-width="0.8"/>
<circle cx="203.50" cy="211.60" r="2.35" fill="none" stroke="#5fcf5f" stroke-width="0.85"/>
<path d="M218.90 207.40V208.55M218.90 213.25V214.90M217.60 207.40h2.6M217.60 214.90h2.6" stroke="#5fcf5f" stroke-width="0.8"/>
<circle cx="218.90" cy="210.90" r="2.35" fill="none" stroke="#5fcf5f" stroke-width="0.85"/>
<path d="M235.20 204.80V205.95M235.20 210.65V212.30M233.90 204.80h2.6M233.90 212.30h2.6" stroke="#5fcf5f" stroke-width="0.8"/>
<circle cx="235.20" cy="208.30" r="2.35" fill="none" stroke="#5fcf5f" stroke-width="0.85"/>
<path d="M250.70 201.00V202.15M250.70 206.85V208.50M249.40 201.00h2.6M249.40 208.50h2.6" stroke="#5fcf5f" stroke-width="0.8"/>
<circle cx="250.70" cy="204.50" r="2.35" fill="none" stroke="#5fcf5f" stroke-width="0.85"/>
<path d="M266.40 194.70V195.85M266.40 200.55V202.20M265.10 194.70h2.6M265.10 202.20h2.6" stroke="#5fcf5f" stroke-width="0.8"/>
<circle cx="266.40" cy="198.20" r="2.35" fill="none" stroke="#5fcf5f" stroke-width="0.85"/>
<path d="M282.10 186.50V189.65M282.10 194.35V198.00M280.80 186.50h2.6M280.80 198.00h2.6" stroke="#5fcf5f" stroke-width="0.8"/>
<circle cx="282.10" cy="192.00" r="2.35" fill="none" stroke="#5fcf5f" stroke-width="0.85"/>
<path d="M297.80 177.70V182.25M297.80 186.95V191.60M296.50 177.70h2.6M296.50 191.60h2.6" stroke="#5fcf5f" stroke-width="0.8"/>
<circle cx="297.80" cy="184.60" r="2.35" fill="none" stroke="#5fcf5f" stroke-width="0.85"/>
<path d="M313.50 169.40V176.05M313.50 180.75V187.40M312.20 169.40h2.6M312.20 187.40h2.6" stroke="#5fcf5f" stroke-width="0.8"/>
<circle cx="313.50" cy="178.40" r="2.35" fill="none" stroke="#5fcf5f" stroke-width="0.85"/>
<path d="M329.60 172.00V182.25M329.60 186.95V191.60M328.30 172.00h2.6M328.30 191.60h2.6" stroke="#5fcf5f" stroke-width="0.8"/>
<circle cx="329.60" cy="184.60" r="2.35" fill="none" stroke="#5fcf5f" stroke-width="0.85"/>
<path d="M345.40 177.70V185.65M345.40 190.35V198.50M344.10 177.70h2.6M344.10 198.50h2.6" stroke="#5fcf5f" stroke-width="0.8"/>
<circle cx="345.40" cy="188.00" r="2.35" fill="none" stroke="#5fcf5f" stroke-width="0.85"/>
<path d="M360.60 169.40V183.65M360.60 188.35V199.90M359.30 169.40h2.6M359.30 199.90h2.6" stroke="#5fcf5f" stroke-width="0.8"/>
<circle cx="360.60" cy="186.00" r="2.35" fill="none" stroke="#5fcf5f" stroke-width="0.85"/>
<path d="M376.20 168.00V189.25M376.20 193.95V211.00M374.90 168.00h2.6M374.90 211.00h2.6" stroke="#5fcf5f" stroke-width="0.8"/>
<circle cx="376.20" cy="191.60" r="2.35" fill="none" stroke="#5fcf5f" stroke-width="0.85"/>
<circle cx="111.10" cy="192.20" r="3.0" fill="#ff0000"/>
<circle cx="125.70" cy="195.90" r="3.0" fill="#ff0000"/>
<circle cx="141.80" cy="203.00" r="3.0" fill="#ff0000"/>
<circle cx="156.80" cy="208.20" r="3.0" fill="#ff0000"/>
<circle cx="172.50" cy="211.30" r="3.0" fill="#ff0000"/>
<circle cx="187.80" cy="213.10" r="3.0" fill="#ff0000"/>
<circle cx="203.50" cy="213.10" r="3.0" fill="#ff0000"/>
<circle cx="218.90" cy="212.40" r="3.0" fill="#ff0000"/>
<circle cx="235.20" cy="209.80" r="3.0" fill="#ff0000"/>
<circle cx="250.70" cy="206.00" r="3.0" fill="#ff0000"/>
<circle cx="266.40" cy="199.70" r="3.0" fill="#ff0000"/>
<circle cx="282.10" cy="191.00" r="3.0" fill="#ff0000"/>
<circle cx="297.80" cy="183.00" r="3.0" fill="#ff0000"/>
<circle cx="313.50" cy="177.70" r="3.0" fill="#ff0000"/>
<circle cx="329.60" cy="180.50" r="3.0" fill="#ff0000"/>
<path d="M345.40 182.00V190.00M344.00 182.00h2.8M344.00 190.00h2.8" stroke="#ff0000" stroke-width="1"/>
<circle cx="345.40" cy="186.00" r="3.0" fill="#ff0000"/>
<path d="M361.20 187.50V198.50M359.80 187.50h2.8M359.80 198.50h2.8" stroke="#ff0000" stroke-width="1"/>
<circle cx="361.20" cy="193.00" r="3.0" fill="#ff0000"/>
<path d="M376.70 184.60V203.20M375.30 184.60h2.8M375.30 203.20h2.8" stroke="#ff0000" stroke-width="1"/>
<circle cx="376.70" cy="193.50" r="3.0" fill="#ff0000"/>
<path d="M138.50 202.00 L140.42 202.57 L142.35 203.18 L144.27 203.84 L146.19 204.55 L148.12 205.28 L150.04 206.00 L151.97 206.70 L153.89 207.36 L155.81 207.94 L157.74 208.43 L159.66 208.89 L161.58 209.32 L163.51 209.73 L165.43 210.11 L167.36 210.46 L169.28 210.79 L171.20 211.10 L173.13 211.39 L175.05 211.69 L176.97 211.98 L178.90 212.26 L180.82 212.53 L182.75 212.75 L184.67 212.93 L186.59 213.06 L188.52 213.12 L190.44 213.16 L192.36 213.19 L194.29 213.23 L196.21 213.25 L198.14 213.27 L200.06 213.29 L201.98 213.30 L203.91 213.30 L205.83 213.27 L207.75 213.20 L209.68 213.11 L211.60 212.99 L213.53 212.85 L215.45 212.69 L217.37 212.53 L219.30 212.37 L221.22 212.17 L223.14 211.92 L225.07 211.64 L226.99 211.33 L228.92 210.99 L230.84 210.63 L232.76 210.27 L234.69 209.90 L236.61 209.52 L238.53 209.13 L240.46 208.71 L242.38 208.27 L244.31 207.81 L246.23 207.33 L248.15 206.84 L250.08 206.33 L252.00 205.80" fill="none" stroke="#000" stroke-width="1.3" stroke-dasharray="2.2,1.9"/>
<path d="M249.00 206.40 L251.20 205.72 L253.41 204.98 L255.61 204.19 L257.81 203.35 L260.02 202.47 L262.22 201.55 L264.42 200.59 L266.63 199.60 L268.83 198.51 L271.03 197.33 L273.24 196.07 L275.44 194.78 L277.64 193.49 L279.85 192.23 L282.05 191.03 L284.25 189.86 L286.46 188.67 L288.66 187.50 L290.86 186.35 L293.07 185.26 L295.27 184.25 L297.47 183.33 L299.68 182.45 L301.88 181.52 L304.08 180.61 L306.29 179.77 L308.49 179.06 L310.69 178.56 L312.90 178.31 L315.10 178.34 L317.31 178.53 L319.51 178.83 L321.71 179.23 L323.92 179.69 L326.12 180.19 L328.32 180.71 L330.53 181.22 L332.73 181.84 L334.93 182.57 L337.14 183.37 L339.34 184.22 L341.54 185.07 L343.75 185.91 L345.95 186.69 L348.15 187.47 L350.36 188.26 L352.56 189.06 L354.76 189.84 L356.97 190.61 L359.17 191.35 L361.37 192.05 L363.58 192.73 L365.78 193.40 L367.98 194.04 L370.19 194.67 L372.39 195.28 L374.59 195.88 L376.80 196.45 L379.00 197.00" fill="none" stroke="#000" stroke-width="1.3"/>
<path d="M118.00 329.50 L140.00 331.50 L160.00 334.00 L180.00 336.00 L200.00 337.50 L220.00 337.00 L238.40 335.00 L250.70 332.30 L266.40 329.30 L282.10 322.50 L297.80 309.50 L313.50 302.50 L331.60 306.50 L351.50 310.50 L371.60 312.50 L371.60 344.50 L351.50 334.00 L331.60 323.50 L313.50 316.20 L297.80 320.00 L282.10 329.50 L266.40 334.50 L250.70 337.50 L238.40 340.20 L220.00 342.00 L200.00 342.50 L180.00 341.50 L160.00 339.50 L140.00 336.00 L118.00 332.50Z" fill="#cbcbcb"/>
<rect x="61.10" y="327.30" width="4.4" height="4.4" fill="none" stroke="#2727d6" stroke-width="1.05"/>
<rect x="64.10" y="326.80" width="4.4" height="4.4" fill="none" stroke="#2727d6" stroke-width="1.05"/>
<rect x="67.10" y="326.29" width="4.4" height="4.4" fill="none" stroke="#2727d6" stroke-width="1.05"/>
<rect x="70.10" y="325.77" width="4.4" height="4.4" fill="none" stroke="#2727d6" stroke-width="1.05"/>
<rect x="73.10" y="325.28" width="4.4" height="4.4" fill="none" stroke="#2727d6" stroke-width="1.05"/>
<rect x="76.10" y="324.83" width="4.4" height="4.4" fill="none" stroke="#2727d6" stroke-width="1.05"/>
<rect x="79.10" y="324.42" width="4.4" height="4.4" fill="none" stroke="#2727d6" stroke-width="1.05"/>
<rect x="82.10" y="323.99" width="4.4" height="4.4" fill="none" stroke="#2727d6" stroke-width="1.05"/>
<rect x="85.10" y="323.63" width="4.4" height="4.4" fill="none" stroke="#2727d6" stroke-width="1.05"/>
<rect x="88.10" y="323.50" width="4.4" height="4.4" fill="none" stroke="#2727d6" stroke-width="1.05"/>
<rect x="92.60" y="323.50" width="4.4" height="4.4" fill="none" stroke="#2727d6" stroke-width="1.05"/>
<rect x="97.10" y="323.50" width="4.4" height="4.4" fill="none" stroke="#2727d6" stroke-width="1.05"/>
<rect x="101.60" y="323.57" width="4.4" height="4.4" fill="none" stroke="#2727d6" stroke-width="1.05"/>
<rect x="106.10" y="323.79" width="4.4" height="4.4" fill="none" stroke="#2727d6" stroke-width="1.05"/>
<rect x="110.60" y="324.24" width="4.4" height="4.4" fill="none" stroke="#2727d6" stroke-width="1.05"/>
<rect x="115.10" y="325.18" width="4.4" height="4.4" fill="none" stroke="#2727d6" stroke-width="1.05"/>
<rect x="119.60" y="326.22" width="4.4" height="4.4" fill="none" stroke="#2727d6" stroke-width="1.05"/>
<rect x="124.10" y="327.40" width="4.4" height="4.4" fill="none" stroke="#2727d6" stroke-width="1.05"/>
<rect x="128.60" y="328.61" width="4.4" height="4.4" fill="none" stroke="#2727d6" stroke-width="1.05"/>
<rect x="133.10" y="329.81" width="4.4" height="4.4" fill="none" stroke="#2727d6" stroke-width="1.05"/>
<rect x="137.60" y="330.95" width="4.4" height="4.4" fill="none" stroke="#2727d6" stroke-width="1.05"/>
<rect x="144.80" y="332.60" width="4.4" height="4.4" fill="none" stroke="#2727d6" stroke-width="1.05"/>
<rect x="151.30" y="333.83" width="4.4" height="4.4" fill="none" stroke="#2727d6" stroke-width="1.05"/>
<rect x="157.80" y="334.80" width="4.4" height="4.4" fill="none" stroke="#2727d6" stroke-width="1.05"/>
<rect x="164.80" y="335.51" width="4.4" height="4.4" fill="none" stroke="#2727d6" stroke-width="1.05"/>
<rect x="172.80" y="336.30" width="4.4" height="4.4" fill="none" stroke="#2727d6" stroke-width="1.05"/>
<rect x="182.10" y="336.80" width="4.4" height="4.4" fill="none" stroke="#2727d6" stroke-width="1.05"/>
<rect x="192.40" y="336.40" width="4.4" height="4.4" fill="none" stroke="#2727d6" stroke-width="1.05"/>
<rect x="207.40" y="336.80" width="4.4" height="4.4" fill="none" stroke="#2727d6" stroke-width="1.05"/>
<rect x="219.20" y="338.10" width="4.4" height="4.4" fill="none" stroke="#2727d6" stroke-width="1.05"/>
<path d="M243.30 334.00V336.80M243.30 341.20V344.00M241.90 334.00h2.8M241.90 344.00h2.8" stroke="#2727d6" stroke-width="0.9"/>
<rect x="241.10" y="336.80" width="4.4" height="4.4" fill="none" stroke="#2727d6" stroke-width="0.9"/>
<path d="M92.50 333.40V333.55M92.50 338.25V340.40M91.20 333.40h2.6M91.20 340.40h2.6" stroke="#5fcf5f" stroke-width="0.8"/>
<circle cx="92.50" cy="335.90" r="2.35" fill="none" stroke="#5fcf5f" stroke-width="0.85"/>
<path d="M100.20 335.70V335.85M100.20 340.55V342.70M98.90 335.70h2.6M98.90 342.70h2.6" stroke="#5fcf5f" stroke-width="0.8"/>
<circle cx="100.20" cy="338.20" r="2.35" fill="none" stroke="#5fcf5f" stroke-width="0.85"/>
<path d="M107.90 337.00V337.15M107.90 341.85V344.00M106.60 337.00h2.6M106.60 344.00h2.6" stroke="#5fcf5f" stroke-width="0.8"/>
<circle cx="107.90" cy="339.50" r="2.35" fill="none" stroke="#5fcf5f" stroke-width="0.85"/>
<path d="M115.60 338.60V338.75M115.60 343.45V343.70M114.30 338.60h2.6M114.30 343.70h2.6" stroke="#5fcf5f" stroke-width="0.8"/>
<circle cx="115.60" cy="341.10" r="2.35" fill="none" stroke="#5fcf5f" stroke-width="0.85"/>
<path d="M123.30 339.70V339.85M123.30 344.55V344.80M122.00 339.70h2.6M122.00 344.80h2.6" stroke="#5fcf5f" stroke-width="0.8"/>
<circle cx="123.30" cy="342.20" r="2.35" fill="none" stroke="#5fcf5f" stroke-width="0.85"/>
<path d="M131.00 341.50V341.65M131.00 346.35V346.60M129.70 341.50h2.6M129.70 346.60h2.6" stroke="#5fcf5f" stroke-width="0.8"/>
<circle cx="131.00" cy="344.00" r="2.35" fill="none" stroke="#5fcf5f" stroke-width="0.85"/>
<path d="M138.70 342.90V343.05M138.70 347.75V348.00M137.40 342.90h2.6M137.40 348.00h2.6" stroke="#5fcf5f" stroke-width="0.8"/>
<circle cx="138.70" cy="345.40" r="2.35" fill="none" stroke="#5fcf5f" stroke-width="0.85"/>
<path d="M146.40 343.00V343.15M146.40 347.85V348.10M145.10 343.00h2.6M145.10 348.10h2.6" stroke="#5fcf5f" stroke-width="0.8"/>
<circle cx="146.40" cy="345.50" r="2.35" fill="none" stroke="#5fcf5f" stroke-width="0.85"/>
<path d="M154.10 343.90V344.05M154.10 348.75V349.00M152.80 343.90h2.6M152.80 349.00h2.6" stroke="#5fcf5f" stroke-width="0.8"/>
<circle cx="154.10" cy="346.40" r="2.35" fill="none" stroke="#5fcf5f" stroke-width="0.85"/>
<path d="M161.80 344.50V344.65M161.80 349.35V349.60M160.50 344.50h2.6M160.50 349.60h2.6" stroke="#5fcf5f" stroke-width="0.8"/>
<circle cx="161.80" cy="347.00" r="2.35" fill="none" stroke="#5fcf5f" stroke-width="0.85"/>
<path d="M169.50 345.30V345.45M169.50 350.15V350.40M168.20 345.30h2.6M168.20 350.40h2.6" stroke="#5fcf5f" stroke-width="0.8"/>
<circle cx="169.50" cy="347.80" r="2.35" fill="none" stroke="#5fcf5f" stroke-width="0.85"/>
<path d="M177.20 345.70V345.85M177.20 350.55V350.80M175.90 345.70h2.6M175.90 350.80h2.6" stroke="#5fcf5f" stroke-width="0.8"/>
<circle cx="177.20" cy="348.20" r="2.35" fill="none" stroke="#5fcf5f" stroke-width="0.85"/>
<path d="M184.90 345.70V345.85M184.90 350.55V350.80M183.60 345.70h2.6M183.60 350.80h2.6" stroke="#5fcf5f" stroke-width="0.8"/>
<circle cx="184.90" cy="348.20" r="2.35" fill="none" stroke="#5fcf5f" stroke-width="0.85"/>
<path d="M192.60 345.50V345.65M192.60 350.35V350.60M191.30 345.50h2.6M191.30 350.60h2.6" stroke="#5fcf5f" stroke-width="0.8"/>
<circle cx="192.60" cy="348.00" r="2.35" fill="none" stroke="#5fcf5f" stroke-width="0.85"/>
<path d="M200.30 345.20V345.35M200.30 350.05V350.30M199.00 345.20h2.6M199.00 350.30h2.6" stroke="#5fcf5f" stroke-width="0.8"/>
<circle cx="200.30" cy="347.70" r="2.35" fill="none" stroke="#5fcf5f" stroke-width="0.85"/>
<path d="M208.00 344.90V345.05M208.00 349.75V350.00M206.70 344.90h2.6M206.70 350.00h2.6" stroke="#5fcf5f" stroke-width="0.8"/>
<circle cx="208.00" cy="347.40" r="2.35" fill="none" stroke="#5fcf5f" stroke-width="0.85"/>
<path d="M215.70 344.30V344.45M215.70 349.15V349.40M214.40 344.30h2.6M214.40 349.40h2.6" stroke="#5fcf5f" stroke-width="0.8"/>
<circle cx="215.70" cy="346.80" r="2.35" fill="none" stroke="#5fcf5f" stroke-width="0.85"/>
<path d="M223.40 343.10V343.25M223.40 347.95V348.20M222.10 343.10h2.6M222.10 348.20h2.6" stroke="#5fcf5f" stroke-width="0.8"/>
<circle cx="223.40" cy="345.60" r="2.35" fill="none" stroke="#5fcf5f" stroke-width="0.85"/>
<path d="M231.10 340.90V341.05M231.10 345.75V346.00M229.80 340.90h2.6M229.80 346.00h2.6" stroke="#5fcf5f" stroke-width="0.8"/>
<circle cx="231.10" cy="343.40" r="2.35" fill="none" stroke="#5fcf5f" stroke-width="0.85"/>
<path d="M238.80 340.30V340.45M238.80 345.15V345.40M237.50 340.30h2.6M237.50 345.40h2.6" stroke="#5fcf5f" stroke-width="0.8"/>
<circle cx="238.80" cy="342.80" r="2.35" fill="none" stroke="#5fcf5f" stroke-width="0.85"/>
<path d="M246.50 339.50V339.65M246.50 344.35V344.60M245.20 339.50h2.6M245.20 344.60h2.6" stroke="#5fcf5f" stroke-width="0.8"/>
<circle cx="246.50" cy="342.00" r="2.35" fill="none" stroke="#5fcf5f" stroke-width="0.85"/>
<path d="M260.40 336.00V340.35M260.40 345.05V346.00M259.10 336.00h2.6M259.10 346.00h2.6" stroke="#5fcf5f" stroke-width="0.8"/>
<circle cx="260.40" cy="342.70" r="2.35" fill="none" stroke="#5fcf5f" stroke-width="0.85"/>
<circle cx="84.70" cy="325.70" r="2.85" fill="#ff0000"/>
<circle cx="93.60" cy="326.10" r="2.85" fill="#ff0000"/>
<circle cx="102.60" cy="327.30" r="2.85" fill="#ff0000"/>
<circle cx="112.00" cy="329.10" r="2.85" fill="#ff0000"/>
<circle cx="121.20" cy="331.30" r="2.85" fill="#ff0000"/>
<circle cx="130.90" cy="332.40" r="2.85" fill="#ff0000"/>
<circle cx="140.70" cy="334.10" r="2.85" fill="#ff0000"/>
<circle cx="150.10" cy="335.60" r="2.85" fill="#ff0000"/>
<circle cx="159.70" cy="337.00" r="2.85" fill="#ff0000"/>
<circle cx="169.80" cy="337.90" r="2.85" fill="#ff0000"/>
<circle cx="179.70" cy="339.20" r="2.85" fill="#ff0000"/>
<circle cx="189.30" cy="340.10" r="2.85" fill="#ff0000"/>
<circle cx="199.00" cy="340.80" r="2.85" fill="#ff0000"/>
<circle cx="208.80" cy="340.30" r="2.85" fill="#ff0000"/>
<circle cx="218.50" cy="339.70" r="2.85" fill="#ff0000"/>
<circle cx="228.30" cy="338.70" r="2.85" fill="#ff0000"/>
<circle cx="238.40" cy="337.50" r="2.85" fill="#ff0000"/>
<circle cx="250.70" cy="334.80" r="2.85" fill="#ff0000"/>
<circle cx="266.40" cy="331.90" r="2.85" fill="#ff0000"/>
<circle cx="282.10" cy="326.30" r="2.85" fill="#ff0000"/>
<path d="M297.80 313.00V319.00M296.40 313.00h2.8M296.40 319.00h2.8" stroke="#ff0000" stroke-width="1"/>
<circle cx="297.80" cy="316.00" r="2.85" fill="#ff0000"/>
<path d="M313.50 305.50V314.60M312.10 305.50h2.8M312.10 314.60h2.8" stroke="#ff0000" stroke-width="1"/>
<circle cx="313.50" cy="309.90" r="2.85" fill="#ff0000"/>
<path d="M331.60 309.10V322.10M330.20 309.10h2.8M330.20 322.10h2.8" stroke="#ff0000" stroke-width="1"/>
<circle cx="331.60" cy="315.20" r="2.85" fill="#ff0000"/>
<path d="M351.50 313.80V332.60M350.10 313.80h2.8M350.10 332.60h2.8" stroke="#ff0000" stroke-width="1"/>
<circle cx="351.50" cy="322.90" r="2.85" fill="#ff0000"/>
<path d="M370.90 313.80V344.30M369.50 313.80h2.8M369.50 344.30h2.8" stroke="#ff0000" stroke-width="1"/>
<circle cx="370.90" cy="329.30" r="2.85" fill="#ff0000"/>
<path d="M135.00 333.00 L137.08 333.42 L139.17 333.82 L141.25 334.20 L143.34 334.55 L145.42 334.88 L147.51 335.20 L149.59 335.52 L151.68 335.84 L153.76 336.17 L155.85 336.48 L157.93 336.78 L160.02 337.04 L162.10 337.26 L164.19 337.46 L166.27 337.65 L168.36 337.85 L170.44 338.07 L172.53 338.32 L174.61 338.59 L176.69 338.85 L178.78 339.10 L180.86 339.32 L182.95 339.54 L185.03 339.75 L187.12 339.94 L189.20 340.09 L191.29 340.24 L193.37 340.38 L195.46 340.50 L197.54 340.58 L199.63 340.60 L201.71 340.57 L203.80 340.50 L205.88 340.42 L207.97 340.33 L210.05 340.24 L212.14 340.14 L214.22 340.01 L216.31 339.86 L218.39 339.71 L220.47 339.53 L222.56 339.34 L224.64 339.12 L226.73 338.88 L228.81 338.64 L230.90 338.38 L232.98 338.11 L235.07 337.82 L237.15 337.50 L239.24 337.16 L241.32 336.77 L243.41 336.34 L245.49 335.90 L247.58 335.45 L249.66 335.01 L251.75 334.59 L253.83 334.19 L255.92 333.79 L258.00 333.40" fill="none" stroke="#000" stroke-width="1.3" stroke-dasharray="2.2,1.9"/>
<path d="M250.00 335.00 L252.08 334.76 L254.17 334.46 L256.25 334.11 L258.34 333.72 L260.42 333.29 L262.51 332.83 L264.59 332.34 L266.68 331.83 L268.76 331.27 L270.85 330.66 L272.93 329.98 L275.02 329.24 L277.10 328.44 L279.19 327.58 L281.27 326.68 L283.36 325.68 L285.44 324.46 L287.53 323.07 L289.61 321.59 L291.69 320.09 L293.78 318.63 L295.86 317.28 L297.95 316.12 L300.03 315.00 L302.12 313.82 L304.20 312.66 L306.29 311.59 L308.37 310.68 L310.46 310.01 L312.54 309.64 L314.63 309.64 L316.71 309.89 L318.80 310.35 L320.88 310.97 L322.97 311.70 L325.05 312.50 L327.14 313.33 L329.22 314.15 L331.31 314.90 L333.39 315.61 L335.47 316.36 L337.56 317.13 L339.64 317.93 L341.73 318.75 L343.81 319.56 L345.90 320.38 L347.98 321.19 L350.07 321.97 L352.15 322.74 L354.24 323.49 L356.32 324.23 L358.41 324.97 L360.49 325.71 L362.58 326.44 L364.66 327.16 L366.75 327.88 L368.83 328.59 L370.92 329.30 L373.00 330.00" fill="none" stroke="#000" stroke-width="1.3"/>
<path d="M118.00 459.00 L140.00 461.00 L160.00 464.00 L180.00 467.00 L200.00 469.00 L220.00 468.50 L238.40 466.30 L250.70 463.50 L266.40 459.30 L282.10 455.30 L297.80 448.80 L313.50 444.00 L331.60 451.60 L351.50 461.20 L372.00 466.80 L372.00 493.10 L351.50 479.30 L331.60 465.40 L313.50 457.60 L297.80 458.20 L282.10 461.00 L266.40 464.50 L250.70 468.50 L238.40 471.30 L220.00 474.00 L200.00 474.50 L180.00 472.50 L160.00 470.00 L140.00 467.00 L118.00 463.50Z" fill="#cbcbcb"/>
<rect x="61.10" y="464.45" width="4.4" height="4.4" fill="none" stroke="#2727d6" stroke-width="1.05"/>
<rect x="64.10" y="463.55" width="4.4" height="4.4" fill="none" stroke="#2727d6" stroke-width="1.05"/>
<rect x="67.10" y="462.59" width="4.4" height="4.4" fill="none" stroke="#2727d6" stroke-width="1.05"/>
<rect x="70.10" y="461.63" width="4.4" height="4.4" fill="none" stroke="#2727d6" stroke-width="1.05"/>
<rect x="73.10" y="460.74" width="4.4" height="4.4" fill="none" stroke="#2727d6" stroke-width="1.05"/>
<rect x="76.10" y="459.96" width="4.4" height="4.4" fill="none" stroke="#2727d6" stroke-width="1.05"/>
<rect x="79.10" y="459.35" width="4.4" height="4.4" fill="none" stroke="#2727d6" stroke-width="1.05"/>
<rect x="82.10" y="458.78" width="4.4" height="4.4" fill="none" stroke="#2727d6" stroke-width="1.05"/>
<rect x="85.10" y="458.25" width="4.4" height="4.4" fill="none" stroke="#2727d6" stroke-width="1.05"/>
<rect x="88.10" y="457.77" width="4.4" height="4.4" fill="none" stroke="#2727d6" stroke-width="1.05"/>
<rect x="92.60" y="457.16" width="4.4" height="4.4" fill="none" stroke="#2727d6" stroke-width="1.05"/>
<rect x="97.10" y="456.74" width="4.4" height="4.4" fill="none" stroke="#2727d6" stroke-width="1.05"/>
<rect x="101.60" y="456.48" width="4.4" height="4.4" fill="none" stroke="#2727d6" stroke-width="1.05"/>
<rect x="106.10" y="456.32" width="4.4" height="4.4" fill="none" stroke="#2727d6" stroke-width="1.05"/>
<rect x="110.60" y="456.34" width="4.4" height="4.4" fill="none" stroke="#2727d6" stroke-width="1.05"/>
<rect x="115.10" y="456.54" width="4.4" height="4.4" fill="none" stroke="#2727d6" stroke-width="1.05"/>
<rect x="119.60" y="456.85" width="4.4" height="4.4" fill="none" stroke="#2727d6" stroke-width="1.05"/>
<rect x="124.10" y="457.44" width="4.4" height="4.4" fill="none" stroke="#2727d6" stroke-width="1.05"/>
<rect x="128.60" y="458.11" width="4.4" height="4.4" fill="none" stroke="#2727d6" stroke-width="1.05"/>
<rect x="133.10" y="458.78" width="4.4" height="4.4" fill="none" stroke="#2727d6" stroke-width="1.05"/>
<rect x="137.60" y="459.56" width="4.4" height="4.4" fill="none" stroke="#2727d6" stroke-width="1.05"/>
<rect x="143.80" y="461.22" width="4.4" height="4.4" fill="none" stroke="#2727d6" stroke-width="1.05"/>
<rect x="148.80" y="462.48" width="4.4" height="4.4" fill="none" stroke="#2727d6" stroke-width="1.05"/>
<rect x="154.80" y="463.40" width="4.4" height="4.4" fill="none" stroke="#2727d6" stroke-width="1.05"/>
<rect x="161.30" y="464.16" width="4.4" height="4.4" fill="none" stroke="#2727d6" stroke-width="1.05"/>
<rect x="167.80" y="464.93" width="4.4" height="4.4" fill="none" stroke="#2727d6" stroke-width="1.05"/>
<rect x="175.20" y="465.80" width="4.4" height="4.4" fill="none" stroke="#2727d6" stroke-width="1.05"/>
<rect x="183.80" y="466.80" width="4.4" height="4.4" fill="none" stroke="#2727d6" stroke-width="1.05"/>
<rect x="195.80" y="468.80" width="4.4" height="4.4" fill="none" stroke="#2727d6" stroke-width="1.05"/>
<rect x="213.30" y="468.03" width="4.4" height="4.4" fill="none" stroke="#2727d6" stroke-width="1.05"/>
<path d="M240.60 468.00V470.30M240.60 474.70V477.00M239.20 468.00h2.8M239.20 477.00h2.8" stroke="#2727d6" stroke-width="0.9"/>
<rect x="238.40" y="470.30" width="4.4" height="4.4" fill="none" stroke="#2727d6" stroke-width="0.9"/>
<path d="M92.50 469.10V469.25M92.50 473.95V476.10M91.20 469.10h2.6M91.20 476.10h2.6" stroke="#5fcf5f" stroke-width="0.8"/>
<circle cx="92.50" cy="471.60" r="2.35" fill="none" stroke="#5fcf5f" stroke-width="0.85"/>
<path d="M100.20 469.80V469.95M100.20 474.65V476.80M98.90 469.80h2.6M98.90 476.80h2.6" stroke="#5fcf5f" stroke-width="0.8"/>
<circle cx="100.20" cy="472.30" r="2.35" fill="none" stroke="#5fcf5f" stroke-width="0.85"/>
<path d="M107.90 469.80V469.95M107.90 474.65V476.80M106.60 469.80h2.6M106.60 476.80h2.6" stroke="#5fcf5f" stroke-width="0.8"/>
<circle cx="107.90" cy="472.30" r="2.35" fill="none" stroke="#5fcf5f" stroke-width="0.85"/>
<path d="M115.60 470.90V471.05M115.60 475.75V476.00M114.30 470.90h2.6M114.30 476.00h2.6" stroke="#5fcf5f" stroke-width="0.8"/>
<circle cx="115.60" cy="473.40" r="2.35" fill="none" stroke="#5fcf5f" stroke-width="0.85"/>
<path d="M123.30 471.80V471.95M123.30 476.65V476.90M122.00 471.80h2.6M122.00 476.90h2.6" stroke="#5fcf5f" stroke-width="0.8"/>
<circle cx="123.30" cy="474.30" r="2.35" fill="none" stroke="#5fcf5f" stroke-width="0.85"/>
<path d="M131.00 472.40V472.55M131.00 477.25V477.50M129.70 472.40h2.6M129.70 477.50h2.6" stroke="#5fcf5f" stroke-width="0.8"/>
<circle cx="131.00" cy="474.90" r="2.35" fill="none" stroke="#5fcf5f" stroke-width="0.85"/>
<path d="M138.70 473.60V473.75M138.70 478.45V478.70M137.40 473.60h2.6M137.40 478.70h2.6" stroke="#5fcf5f" stroke-width="0.8"/>
<circle cx="138.70" cy="476.10" r="2.35" fill="none" stroke="#5fcf5f" stroke-width="0.85"/>
<path d="M146.40 474.20V474.35M146.40 479.05V479.30M145.10 474.20h2.6M145.10 479.30h2.6" stroke="#5fcf5f" stroke-width="0.8"/>
<circle cx="146.40" cy="476.70" r="2.35" fill="none" stroke="#5fcf5f" stroke-width="0.85"/>
<path d="M154.10 475.10V475.25M154.10 479.95V480.20M152.80 475.10h2.6M152.80 480.20h2.6" stroke="#5fcf5f" stroke-width="0.8"/>
<circle cx="154.10" cy="477.60" r="2.35" fill="none" stroke="#5fcf5f" stroke-width="0.85"/>
<path d="M161.80 475.90V476.05M161.80 480.75V481.00M160.50 475.90h2.6M160.50 481.00h2.6" stroke="#5fcf5f" stroke-width="0.8"/>
<circle cx="161.80" cy="478.40" r="2.35" fill="none" stroke="#5fcf5f" stroke-width="0.85"/>
<path d="M169.50 476.60V476.75M169.50 481.45V481.70M168.20 476.60h2.6M168.20 481.70h2.6" stroke="#5fcf5f" stroke-width="0.8"/>
<circle cx="169.50" cy="479.10" r="2.35" fill="none" stroke="#5fcf5f" stroke-width="0.85"/>
<path d="M177.20 477.20V477.35M177.20 482.05V482.30M175.90 477.20h2.6M175.90 482.30h2.6" stroke="#5fcf5f" stroke-width="0.8"/>
<circle cx="177.20" cy="479.70" r="2.35" fill="none" stroke="#5fcf5f" stroke-width="0.85"/>
<path d="M184.90 477.70V477.85M184.90 482.55V482.80M183.60 477.70h2.6M183.60 482.80h2.6" stroke="#5fcf5f" stroke-width="0.8"/>
<circle cx="184.90" cy="480.20" r="2.35" fill="none" stroke="#5fcf5f" stroke-width="0.85"/>
<path d="M192.60 478.10V478.25M192.60 482.95V483.20M191.30 478.10h2.6M191.30 483.20h2.6" stroke="#5fcf5f" stroke-width="0.8"/>
<circle cx="192.60" cy="480.60" r="2.35" fill="none" stroke="#5fcf5f" stroke-width="0.85"/>
<path d="M200.30 478.10V478.25M200.30 482.95V483.20M199.00 478.10h2.6M199.00 483.20h2.6" stroke="#5fcf5f" stroke-width="0.8"/>
<circle cx="200.30" cy="480.60" r="2.35" fill="none" stroke="#5fcf5f" stroke-width="0.85"/>
<path d="M208.00 478.10V478.25M208.00 482.95V483.20M206.70 478.10h2.6M206.70 483.20h2.6" stroke="#5fcf5f" stroke-width="0.8"/>
<circle cx="208.00" cy="480.60" r="2.35" fill="none" stroke="#5fcf5f" stroke-width="0.85"/>
<path d="M215.70 475.80V475.95M215.70 480.65V480.90M214.40 475.80h2.6M214.40 480.90h2.6" stroke="#5fcf5f" stroke-width="0.8"/>
<circle cx="215.70" cy="478.30" r="2.35" fill="none" stroke="#5fcf5f" stroke-width="0.85"/>
<path d="M223.40 473.60V473.75M223.40 478.45V478.70M222.10 473.60h2.6M222.10 478.70h2.6" stroke="#5fcf5f" stroke-width="0.8"/>
<circle cx="223.40" cy="476.10" r="2.35" fill="none" stroke="#5fcf5f" stroke-width="0.85"/>
<path d="M231.10 473.10V473.25M231.10 477.95V478.20M229.80 473.10h2.6M229.80 478.20h2.6" stroke="#5fcf5f" stroke-width="0.8"/>
<circle cx="231.10" cy="475.60" r="2.35" fill="none" stroke="#5fcf5f" stroke-width="0.85"/>
<path d="M238.80 472.60V472.75M238.80 477.45V477.70M237.50 472.60h2.6M237.50 477.70h2.6" stroke="#5fcf5f" stroke-width="0.8"/>
<circle cx="238.80" cy="475.10" r="2.35" fill="none" stroke="#5fcf5f" stroke-width="0.85"/>
<path d="M246.50 473.10V473.25M246.50 477.95V478.20M245.20 473.10h2.6M245.20 478.20h2.6" stroke="#5fcf5f" stroke-width="0.8"/>
<circle cx="246.50" cy="475.60" r="2.35" fill="none" stroke="#5fcf5f" stroke-width="0.85"/>
<path d="M260.40 471.60V475.75M260.40 480.45V482.80M259.10 471.60h2.6M259.10 482.80h2.6" stroke="#5fcf5f" stroke-width="0.8"/>
<circle cx="260.40" cy="478.10" r="2.35" fill="none" stroke="#5fcf5f" stroke-width="0.85"/>
<circle cx="84.70" cy="460.20" r="2.85" fill="#ff0000"/>
<circle cx="93.60" cy="460.00" r="2.85" fill="#ff0000"/>
<circle cx="102.60" cy="460.70" r="2.85" fill="#ff0000"/>
<circle cx="112.00" cy="461.40" r="2.85" fill="#ff0000"/>
<circle cx="121.20" cy="462.30" r="2.85" fill="#ff0000"/>
<circle cx="130.90" cy="463.40" r="2.85" fill="#ff0000"/>
<circle cx="140.70" cy="464.60" r="2.85" fill="#ff0000"/>
<circle cx="150.10" cy="466.10" r="2.85" fill="#ff0000"/>
<circle cx="159.70" cy="467.50" r="2.85" fill="#ff0000"/>
<circle cx="169.80" cy="468.60" r="2.85" fill="#ff0000"/>
<circle cx="179.70" cy="470.20" r="2.85" fill="#ff0000"/>
<circle cx="189.30" cy="471.30" r="2.85" fill="#ff0000"/>
<circle cx="199.00" cy="472.40" r="2.85" fill="#ff0000"/>
<circle cx="208.80" cy="472.40" r="2.85" fill="#ff0000"/>
<circle cx="218.50" cy="471.70" r="2.85" fill="#ff0000"/>
<circle cx="228.30" cy="470.50" r="2.85" fill="#ff0000"/>
<circle cx="238.40" cy="468.30" r="2.85" fill="#ff0000"/>
<circle cx="250.70" cy="465.80" r="2.85" fill="#ff0000"/>
<circle cx="266.40" cy="461.50" r="2.85" fill="#ff0000"/>
<circle cx="282.10" cy="458.20" r="2.85" fill="#ff0000"/>
<path d="M297.80 450.50V456.50M296.40 450.50h2.8M296.40 456.50h2.8" stroke="#ff0000" stroke-width="1"/>
<circle cx="297.80" cy="453.20" r="2.85" fill="#ff0000"/>
<path d="M313.50 447.40V456.50M312.10 447.40h2.8M312.10 456.50h2.8" stroke="#ff0000" stroke-width="1"/>
<circle cx="313.50" cy="452.10" r="2.85" fill="#ff0000"/>
<path d="M331.60 453.80V466.80M330.20 453.80h2.8M330.20 466.80h2.8" stroke="#ff0000" stroke-width="1"/>
<circle cx="331.60" cy="459.90" r="2.85" fill="#ff0000"/>
<path d="M351.50 462.60V480.60M350.10 462.60h2.8M350.10 480.60h2.8" stroke="#ff0000" stroke-width="1"/>
<circle cx="351.50" cy="471.50" r="2.85" fill="#ff0000"/>
<path d="M370.90 468.20V492.50M369.50 468.20h2.8M369.50 492.50h2.8" stroke="#ff0000" stroke-width="1"/>
<circle cx="370.90" cy="480.60" r="2.85" fill="#ff0000"/>
<path d="M135.00 463.80 L137.05 464.08 L139.10 464.37 L141.15 464.67 L143.20 464.99 L145.25 465.32 L147.31 465.66 L149.36 465.99 L151.41 466.30 L153.46 466.62 L155.51 466.92 L157.56 467.22 L159.61 467.49 L161.66 467.73 L163.71 467.94 L165.76 468.14 L167.81 468.36 L169.86 468.61 L171.92 468.91 L173.97 469.26 L176.02 469.62 L178.07 469.96 L180.12 470.26 L182.17 470.52 L184.22 470.76 L186.27 470.98 L188.32 471.20 L190.37 471.41 L192.42 471.64 L194.47 471.87 L196.53 472.06 L198.58 472.18 L200.63 472.25 L202.68 472.31 L204.73 472.36 L206.78 472.39 L208.83 472.40 L210.88 472.35 L212.93 472.22 L214.98 472.04 L217.03 471.84 L219.08 471.65 L221.14 471.44 L223.19 471.21 L225.24 470.95 L227.29 470.65 L229.34 470.32 L231.39 469.91 L233.44 469.45 L235.49 468.96 L237.54 468.49 L239.59 468.05 L241.64 467.64 L243.69 467.23 L245.75 466.82 L247.80 466.41 L249.85 465.98 L251.90 465.54 L253.95 465.07 L256.00 464.60" fill="none" stroke="#000" stroke-width="1.3" stroke-dasharray="2.2,1.9"/>
<path d="M248.00 466.50 L250.10 465.95 L252.20 465.40 L254.31 464.86 L256.41 464.32 L258.51 463.78 L260.61 463.25 L262.71 462.72 L264.81 462.19 L266.92 461.67 L269.02 461.16 L271.12 460.65 L273.22 460.15 L275.32 459.64 L277.42 459.14 L279.53 458.63 L281.63 458.12 L283.73 457.59 L285.83 457.05 L287.93 456.50 L290.03 455.95 L292.14 455.41 L294.24 454.87 L296.34 454.35 L298.44 453.84 L300.54 453.26 L302.64 452.65 L304.75 452.07 L306.85 451.61 L308.95 451.34 L311.05 451.34 L313.15 451.62 L315.25 452.14 L317.36 452.87 L319.46 453.76 L321.56 454.77 L323.66 455.86 L325.76 456.99 L327.86 458.12 L329.97 459.21 L332.07 460.22 L334.17 461.26 L336.27 462.38 L338.37 463.54 L340.47 464.75 L342.58 465.97 L344.68 467.20 L346.78 468.41 L348.88 469.59 L350.98 470.73 L353.08 471.82 L355.19 472.89 L357.29 473.95 L359.39 475.00 L361.49 476.04 L363.59 477.06 L365.69 478.07 L367.80 479.06 L369.90 480.04 L372.00 481.00" fill="none" stroke="#000" stroke-width="1.3"/>
<path d="M85.50 602.00 L88.00 599.50 L92.00 597.60 L100.00 595.60 L110.00 594.20 L120.00 593.30 L140.00 592.40 L160.00 592.40 L175.00 592.60 L190.00 594.20 L200.00 595.00 L210.00 595.30 L220.00 595.30 L235.00 592.60 L253.60 589.80 L269.30 586.60 L285.00 580.20 L300.60 571.00 L316.30 572.30 L333.80 586.00 L354.50 601.60 L354.50 632.60 L333.80 612.50 L316.30 594.60 L300.60 588.80 L285.00 590.50 L269.30 594.00 L253.60 597.50 L235.00 601.00 L220.00 602.60 L210.00 603.30 L200.00 603.60 L190.00 603.40 L175.00 602.50 L160.00 602.00 L140.00 601.60 L120.00 603.00 L110.00 603.80 L100.00 604.80 L92.00 605.50 L88.00 605.80 L85.50 606.00Z" fill="#cbcbcb"/>
<rect x="61.00" y="618.12" width="5.0" height="5.0" fill="none" stroke="#2727d6" stroke-width="1.05"/>
<rect x="64.85" y="616.68" width="5.0" height="5.0" fill="none" stroke="#2727d6" stroke-width="1.05"/>
<rect x="68.70" y="615.26" width="5.0" height="5.0" fill="none" stroke="#2727d6" stroke-width="1.05"/>
<rect x="72.55" y="613.87" width="5.0" height="5.0" fill="none" stroke="#2727d6" stroke-width="1.05"/>
<rect x="76.40" y="612.50" width="5.0" height="5.0" fill="none" stroke="#2727d6" stroke-width="1.05"/>
<rect x="80.25" y="611.11" width="5.0" height="5.0" fill="none" stroke="#2727d6" stroke-width="1.05"/>
<rect x="84.10" y="609.72" width="5.0" height="5.0" fill="none" stroke="#2727d6" stroke-width="1.05"/>
<rect x="87.95" y="608.34" width="5.0" height="5.0" fill="none" stroke="#2727d6" stroke-width="1.05"/>
<rect x="91.80" y="607.06" width="5.0" height="5.0" fill="none" stroke="#2727d6" stroke-width="1.05"/>
<rect x="95.65" y="605.37" width="5.0" height="5.0" fill="none" stroke="#2727d6" stroke-width="1.05"/>
<rect x="98.00" y="603.81" width="5.0" height="5.0" fill="none" stroke="#2727d6" stroke-width="1.05"/>
<rect x="102.00" y="602.04" width="5.0" height="5.0" fill="none" stroke="#2727d6" stroke-width="1.05"/>
<rect x="107.00" y="601.36" width="5.0" height="5.0" fill="none" stroke="#2727d6" stroke-width="1.05"/>
<rect x="112.50" y="601.00" width="5.0" height="5.0" fill="none" stroke="#2727d6" stroke-width="1.05"/>
<rect x="118.50" y="600.48" width="5.0" height="5.0" fill="none" stroke="#2727d6" stroke-width="1.05"/>
<rect x="124.50" y="599.48" width="5.0" height="5.0" fill="none" stroke="#2727d6" stroke-width="1.05"/>
<rect x="130.00" y="598.50" width="5.0" height="5.0" fill="none" stroke="#2727d6" stroke-width="1.05"/>
<rect x="134.50" y="598.57" width="5.0" height="5.0" fill="none" stroke="#2727d6" stroke-width="1.05"/>
<rect x="138.50" y="598.70" width="5.0" height="5.0" fill="none" stroke="#2727d6" stroke-width="1.05"/>
<rect x="143.80" y="600.00" width="5.0" height="5.0" fill="none" stroke="#2727d6" stroke-width="1.05"/>
<rect x="148.70" y="600.70" width="5.0" height="5.0" fill="none" stroke="#2727d6" stroke-width="1.05"/>
<rect x="155.00" y="601.10" width="5.0" height="5.0" fill="none" stroke="#2727d6" stroke-width="1.05"/>
<rect x="161.00" y="600.00" width="5.0" height="5.0" fill="none" stroke="#2727d6" stroke-width="1.05"/>
<rect x="166.60" y="600.70" width="5.0" height="5.0" fill="none" stroke="#2727d6" stroke-width="1.05"/>
<rect x="174.50" y="598.50" width="5.0" height="5.0" fill="none" stroke="#2727d6" stroke-width="1.05"/>
<rect x="184.10" y="602.30" width="5.0" height="5.0" fill="none" stroke="#2727d6" stroke-width="1.05"/>
<rect x="196.20" y="601.10" width="5.0" height="5.0" fill="none" stroke="#2727d6" stroke-width="1.05"/>
<path d="M215.80 600.00V603.80M215.80 608.80V613.00M214.40 600.00h2.8M214.40 613.00h2.8" stroke="#2727d6" stroke-width="0.9"/>
<rect x="213.30" y="603.80" width="5.0" height="5.0" fill="none" stroke="#2727d6" stroke-width="0.9"/>
<path d="M240.90 602.60V611.30M240.90 616.30V626.10M239.50 602.60h2.8M239.50 626.10h2.8" stroke="#2727d6" stroke-width="0.9"/>
<rect x="238.40" y="611.30" width="5.0" height="5.0" fill="none" stroke="#2727d6" stroke-width="0.9"/>
<path d="M94.80 615.60V616.55M94.80 621.25V622.70M93.50 615.60h2.6M93.50 622.70h2.6" stroke="#5fcf5f" stroke-width="0.8"/>
<circle cx="94.80" cy="618.90" r="2.35" fill="none" stroke="#5fcf5f" stroke-width="0.85"/>
<path d="M102.60 611.50V612.45M102.60 617.15V618.60M101.30 611.50h2.6M101.30 618.60h2.6" stroke="#5fcf5f" stroke-width="0.8"/>
<circle cx="102.60" cy="614.80" r="2.35" fill="none" stroke="#5fcf5f" stroke-width="0.85"/>
<path d="M109.80 609.30V610.25M109.80 614.95V616.40M108.50 609.30h2.6M108.50 616.40h2.6" stroke="#5fcf5f" stroke-width="0.8"/>
<circle cx="109.80" cy="612.60" r="2.35" fill="none" stroke="#5fcf5f" stroke-width="0.85"/>
<path d="M117.20 607.10V608.05M117.20 612.75V614.20M115.90 607.10h2.6M115.90 614.20h2.6" stroke="#5fcf5f" stroke-width="0.8"/>
<circle cx="117.20" cy="610.40" r="2.35" fill="none" stroke="#5fcf5f" stroke-width="0.85"/>
<path d="M125.00 607.50V608.45M125.00 613.15V614.60M123.70 607.50h2.6M123.70 614.60h2.6" stroke="#5fcf5f" stroke-width="0.8"/>
<circle cx="125.00" cy="610.80" r="2.35" fill="none" stroke="#5fcf5f" stroke-width="0.85"/>
<path d="M132.20 608.20V609.15M132.20 613.85V615.30M130.90 608.20h2.6M130.90 615.30h2.6" stroke="#5fcf5f" stroke-width="0.8"/>
<circle cx="132.20" cy="611.50" r="2.35" fill="none" stroke="#5fcf5f" stroke-width="0.85"/>
<path d="M140.00 608.20V609.15M140.00 613.85V615.30M138.70 608.20h2.6M138.70 615.30h2.6" stroke="#5fcf5f" stroke-width="0.8"/>
<circle cx="140.00" cy="611.50" r="2.35" fill="none" stroke="#5fcf5f" stroke-width="0.85"/>
<path d="M147.80 608.20V609.15M147.80 613.85V615.30M146.50 608.20h2.6M146.50 615.30h2.6" stroke="#5fcf5f" stroke-width="0.8"/>
<circle cx="147.80" cy="611.50" r="2.35" fill="none" stroke="#5fcf5f" stroke-width="0.85"/>
<path d="M155.70 605.90V606.85M155.70 611.55V613.00M154.40 605.90h2.6M154.40 613.00h2.6" stroke="#5fcf5f" stroke-width="0.8"/>
<circle cx="155.70" cy="609.20" r="2.35" fill="none" stroke="#5fcf5f" stroke-width="0.85"/>
<path d="M163.50 605.90V606.85M163.50 611.55V613.00M162.20 605.90h2.6M162.20 613.00h2.6" stroke="#5fcf5f" stroke-width="0.8"/>
<circle cx="163.50" cy="609.20" r="2.35" fill="none" stroke="#5fcf5f" stroke-width="0.85"/>
<path d="M171.40 607.50V608.45M171.40 613.15V614.60M170.10 607.50h2.6M170.10 614.60h2.6" stroke="#5fcf5f" stroke-width="0.8"/>
<circle cx="171.40" cy="610.80" r="2.35" fill="none" stroke="#5fcf5f" stroke-width="0.85"/>
<path d="M179.20 607.10V608.05M179.20 612.75V614.20M177.90 607.10h2.6M177.90 614.20h2.6" stroke="#5fcf5f" stroke-width="0.8"/>
<circle cx="179.20" cy="610.40" r="2.35" fill="none" stroke="#5fcf5f" stroke-width="0.85"/>
<path d="M187.10 608.20V609.15M187.10 613.85V615.30M185.80 608.20h2.6M185.80 615.30h2.6" stroke="#5fcf5f" stroke-width="0.8"/>
<circle cx="187.10" cy="611.50" r="2.35" fill="none" stroke="#5fcf5f" stroke-width="0.85"/>
<path d="M194.90 608.20V609.15M194.90 613.85V615.30M193.60 608.20h2.6M193.60 615.30h2.6" stroke="#5fcf5f" stroke-width="0.8"/>
<circle cx="194.90" cy="611.50" r="2.35" fill="none" stroke="#5fcf5f" stroke-width="0.85"/>
<path d="M202.80 608.20V609.15M202.80 613.85V615.30M201.50 608.20h2.6M201.50 615.30h2.6" stroke="#5fcf5f" stroke-width="0.8"/>
<circle cx="202.80" cy="611.50" r="2.35" fill="none" stroke="#5fcf5f" stroke-width="0.85"/>
<path d="M210.60 608.70V609.65M210.60 614.35V615.80M209.30 608.70h2.6M209.30 615.80h2.6" stroke="#5fcf5f" stroke-width="0.8"/>
<circle cx="210.60" cy="612.00" r="2.35" fill="none" stroke="#5fcf5f" stroke-width="0.85"/>
<path d="M218.50 609.30V610.25M218.50 614.95V616.40M217.20 609.30h2.6M217.20 616.40h2.6" stroke="#5fcf5f" stroke-width="0.8"/>
<circle cx="218.50" cy="612.60" r="2.35" fill="none" stroke="#5fcf5f" stroke-width="0.85"/>
<path d="M226.30 607.00V608.95M226.30 613.65V616.00M225.00 607.00h2.6M225.00 616.00h2.6" stroke="#5fcf5f" stroke-width="0.8"/>
<circle cx="226.30" cy="611.30" r="2.35" fill="none" stroke="#5fcf5f" stroke-width="0.85"/>
<path d="M233.90 606.00V609.25M233.90 613.95V617.20M232.60 606.00h2.6M232.60 617.20h2.6" stroke="#5fcf5f" stroke-width="0.8"/>
<circle cx="233.90" cy="611.60" r="2.35" fill="none" stroke="#5fcf5f" stroke-width="0.85"/>
<path d="M241.30 606.50V609.65M241.30 614.35V617.50M240.00 606.50h2.6M240.00 617.50h2.6" stroke="#5fcf5f" stroke-width="0.8"/>
<circle cx="241.30" cy="612.00" r="2.35" fill="none" stroke="#5fcf5f" stroke-width="0.85"/>
<path d="M249.10 606.00V611.05M249.10 615.75V621.70M247.80 606.00h2.6M247.80 621.70h2.6" stroke="#5fcf5f" stroke-width="0.8"/>
<circle cx="249.10" cy="613.40" r="2.35" fill="none" stroke="#5fcf5f" stroke-width="0.85"/>
<path d="M257.70 604.40V610.75M257.70 615.45V621.00M256.40 604.40h2.6M256.40 621.00h2.6" stroke="#5fcf5f" stroke-width="0.8"/>
<circle cx="257.70" cy="613.10" r="2.35" fill="none" stroke="#5fcf5f" stroke-width="0.85"/>
<path d="M265.50 598.60V608.05M265.50 612.75V622.30M264.20 598.60h2.6M264.20 622.30h2.6" stroke="#5fcf5f" stroke-width="0.8"/>
<circle cx="265.50" cy="610.40" r="2.35" fill="none" stroke="#5fcf5f" stroke-width="0.85"/>
<circle cx="86.90" cy="604.20" r="3.0" fill="#ff0000"/>
<circle cx="95.90" cy="602.00" r="3.0" fill="#ff0000"/>
<circle cx="105.30" cy="600.80" r="3.0" fill="#ff0000"/>
<circle cx="114.50" cy="599.70" r="3.0" fill="#ff0000"/>
<circle cx="123.90" cy="598.70" r="3.0" fill="#ff0000"/>
<circle cx="133.50" cy="598.00" r="3.0" fill="#ff0000"/>
<circle cx="143.00" cy="598.00" r="3.0" fill="#ff0000"/>
<circle cx="152.80" cy="598.00" r="3.0" fill="#ff0000"/>
<circle cx="162.40" cy="599.10" r="3.0" fill="#ff0000"/>
<circle cx="172.50" cy="600.70" r="3.0" fill="#ff0000"/>
<circle cx="182.20" cy="601.80" r="3.0" fill="#ff0000"/>
<circle cx="191.60" cy="600.70" r="3.0" fill="#ff0000"/>
<circle cx="201.70" cy="599.80" r="3.0" fill="#ff0000"/>
<circle cx="211.30" cy="599.80" r="3.0" fill="#ff0000"/>
<circle cx="221.50" cy="600.10" r="3.0" fill="#ff0000"/>
<circle cx="231.00" cy="598.40" r="3.0" fill="#ff0000"/>
<circle cx="240.90" cy="594.80" r="3.0" fill="#ff0000"/>
<path d="M253.60 590.00V595.00M252.20 590.00h2.8M252.20 595.00h2.8" stroke="#ff0000" stroke-width="1"/>
<circle cx="253.60" cy="592.50" r="3.0" fill="#ff0000"/>
<path d="M269.30 585.80V593.60M267.90 585.80h2.8M267.90 593.60h2.8" stroke="#ff0000" stroke-width="1"/>
<circle cx="269.30" cy="590.30" r="3.0" fill="#ff0000"/>
<path d="M285.00 579.00V590.30M283.60 579.00h2.8M283.60 590.30h2.8" stroke="#ff0000" stroke-width="1"/>
<circle cx="285.00" cy="584.70" r="3.0" fill="#ff0000"/>
<path d="M300.60 571.40V588.60M299.20 571.40h2.8M299.20 588.60h2.8" stroke="#ff0000" stroke-width="1"/>
<circle cx="300.60" cy="579.80" r="3.0" fill="#ff0000"/>
<path d="M316.30 573.90V598.80M314.90 573.90h2.8M314.90 598.80h2.8" stroke="#ff0000" stroke-width="1"/>
<circle cx="316.30" cy="586.30" r="3.0" fill="#ff0000"/>
<path d="M333.80 588.30V612.60M332.40 588.30h2.8M332.40 612.60h2.8" stroke="#ff0000" stroke-width="1"/>
<circle cx="333.80" cy="600.70" r="3.0" fill="#ff0000"/>
<path d="M353.70 601.60V632.60M352.30 601.60h2.8M352.30 632.60h2.8" stroke="#ff0000" stroke-width="1"/>
<circle cx="353.70" cy="617.60" r="3.0" fill="#ff0000"/>
<path d="M138.00 599.50 L139.93 599.12 L141.86 598.85 L143.80 598.80 L145.73 598.85 L147.66 598.92 L149.59 599.02 L151.53 599.13 L153.46 599.24 L155.39 599.36 L157.32 599.50 L159.25 599.65 L161.19 599.80 L163.12 599.96 L165.05 600.13 L166.98 600.31 L168.92 600.50 L170.85 600.67 L172.78 600.82 L174.71 600.98 L176.64 601.13 L178.58 601.27 L180.51 601.37 L182.44 601.40 L184.37 601.36 L186.31 601.29 L188.24 601.19 L190.17 601.08 L192.10 600.97 L194.03 600.86 L195.97 600.72 L197.90 600.59 L199.83 600.48 L201.76 600.40 L203.69 600.35 L205.63 600.31 L207.56 600.27 L209.49 600.24 L211.42 600.20 L213.36 600.15 L215.29 600.11 L217.22 600.06 L219.15 600.00 L221.08 599.92 L223.02 599.78 L224.95 599.54 L226.88 599.22 L228.81 598.84 L230.75 598.45 L232.68 598.01 L234.61 597.48 L236.54 596.89 L238.47 596.30 L240.41 595.75 L242.34 595.27 L244.27 594.82 L246.20 594.38 L248.14 593.97 L250.07 593.57 L252.00 593.20" fill="none" stroke="#000" stroke-width="1.3" stroke-dasharray="2.2,1.9"/>
<path d="M240.00 595.80 L241.98 595.39 L243.97 594.98 L245.95 594.57 L247.93 594.16 L249.92 593.76 L251.90 593.35 L253.88 592.94 L255.86 592.55 L257.85 592.17 L259.83 591.79 L261.81 591.41 L263.80 591.02 L265.78 590.60 L267.76 590.16 L269.75 589.69 L271.73 589.16 L273.71 588.59 L275.69 587.97 L277.68 587.34 L279.66 586.69 L281.64 586.05 L283.63 585.42 L285.61 584.81 L287.59 584.19 L289.58 583.54 L291.56 582.88 L293.54 582.24 L295.53 581.64 L297.51 581.09 L299.49 580.62 L301.47 580.23 L303.46 579.85 L305.44 579.61 L307.42 579.77 L309.41 580.50 L311.39 581.63 L313.37 582.98 L315.36 584.38 L317.34 585.69 L319.32 587.15 L321.31 588.76 L323.29 590.49 L325.27 592.29 L327.25 594.13 L329.24 595.97 L331.22 597.77 L333.20 599.50 L335.19 601.15 L337.17 602.78 L339.15 604.40 L341.14 606.01 L343.12 607.61 L345.10 609.20 L347.08 610.78 L349.07 612.35 L351.05 613.90 L353.03 615.45 L355.02 616.98 L357.00 618.50" fill="none" stroke="#000" stroke-width="1.3"/>
<path d="M61.9 5.80V103.00" fill="none" stroke="#b0b0b0" stroke-width="1.9"/>
<path d="M61.2 103.00H401" fill="none" stroke="#a2a2a2" stroke-width="1.8"/>
<path d="M62.6 93.66h2.5" stroke="#5e5e5e" stroke-width="0.95"/>
<path d="M62.6 84.94h2.5" stroke="#5e5e5e" stroke-width="0.95"/>
<path d="M62.6 76.22h2.5" stroke="#5e5e5e" stroke-width="0.95"/>
<path d="M62.6 67.50h5.5" stroke="#5e5e5e" stroke-width="0.95"/>
<path d="M62.6 58.78h2.5" stroke="#5e5e5e" stroke-width="0.95"/>
<path d="M62.6 50.06h2.5" stroke="#5e5e5e" stroke-width="0.95"/>
<path d="M62.6 41.34h2.5" stroke="#5e5e5e" stroke-width="0.95"/>
<path d="M62.6 32.62h2.5" stroke="#5e5e5e" stroke-width="0.95"/>
<path d="M62.6 23.90h5.5" stroke="#5e5e5e" stroke-width="0.95"/>
<path d="M62.6 15.18h2.5" stroke="#5e5e5e" stroke-width="0.95"/>
<path d="M62.6 6.46h2.5" stroke="#5e5e5e" stroke-width="0.95"/>
<path d="M86.13 102.80v-2.0" stroke="#5e5e5e" stroke-width="0.95"/>
<path d="M99.95 102.80v-2.0" stroke="#5e5e5e" stroke-width="0.95"/>
<path d="M109.76 102.80v-2.0" stroke="#5e5e5e" stroke-width="0.95"/>
<path d="M117.37 102.80v-2.0" stroke="#5e5e5e" stroke-width="0.95"/>
<path d="M123.58 102.80v-2.0" stroke="#5e5e5e" stroke-width="0.95"/>
<path d="M128.84 102.80v-2.0" stroke="#5e5e5e" stroke-width="0.95"/>
<path d="M133.39 102.80v-2.0" stroke="#5e5e5e" stroke-width="0.95"/>
<path d="M137.41 102.80v-2.0" stroke="#5e5e5e" stroke-width="0.95"/>
<path d="M141.00 102.80v-3.5" stroke="#5e5e5e" stroke-width="0.95"/>
<path d="M164.63 102.80v-2.0" stroke="#5e5e5e" stroke-width="0.95"/>
<path d="M178.45 102.80v-2.0" stroke="#5e5e5e" stroke-width="0.95"/>
<path d="M188.26 102.80v-2.0" stroke="#5e5e5e" stroke-width="0.95"/>
<path d="M195.87 102.80v-2.0" stroke="#5e5e5e" stroke-width="0.95"/>
<path d="M202.08 102.80v-2.0" stroke="#5e5e5e" stroke-width="0.95"/>
<path d="M207.34 102.80v-2.0" stroke="#5e5e5e" stroke-width="0.95"/>
<path d="M211.89 102.80v-2.0" stroke="#5e5e5e" stroke-width="0.95"/>
<path d="M215.91 102.80v-2.0" stroke="#5e5e5e" stroke-width="0.95"/>
<path d="M219.50 102.80v-3.5" stroke="#5e5e5e" stroke-width="0.95"/>
<path d="M243.13 102.80v-2.0" stroke="#5e5e5e" stroke-width="0.95"/>
<path d="M256.95 102.80v-2.0" stroke="#5e5e5e" stroke-width="0.95"/>
<path d="M266.76 102.80v-2.0" stroke="#5e5e5e" stroke-width="0.95"/>
<path d="M274.37 102.80v-2.0" stroke="#5e5e5e" stroke-width="0.95"/>
<path d="M280.58 102.80v-2.0" stroke="#5e5e5e" stroke-width="0.95"/>
<path d="M285.84 102.80v-2.0" stroke="#5e5e5e" stroke-width="0.95"/>
<path d="M290.39 102.80v-2.0" stroke="#5e5e5e" stroke-width="0.95"/>
<path d="M294.41 102.80v-2.0" stroke="#5e5e5e" stroke-width="0.95"/>
<path d="M298.00 102.80v-3.5" stroke="#5e5e5e" stroke-width="0.95"/>
<path d="M321.63 102.80v-2.0" stroke="#5e5e5e" stroke-width="0.95"/>
<path d="M335.45 102.80v-2.0" stroke="#5e5e5e" stroke-width="0.95"/>
<path d="M345.26 102.80v-2.0" stroke="#5e5e5e" stroke-width="0.95"/>
<path d="M352.87 102.80v-2.0" stroke="#5e5e5e" stroke-width="0.95"/>
<path d="M359.08 102.80v-2.0" stroke="#5e5e5e" stroke-width="0.95"/>
<path d="M364.34 102.80v-2.0" stroke="#5e5e5e" stroke-width="0.95"/>
<path d="M368.89 102.80v-2.0" stroke="#5e5e5e" stroke-width="0.95"/>
<path d="M372.91 102.80v-2.0" stroke="#5e5e5e" stroke-width="0.95"/>
<path d="M376.50 102.80v-3.5" stroke="#5e5e5e" stroke-width="0.95"/>
<path d="M400.13 102.80v-2.0" stroke="#5e5e5e" stroke-width="0.95"/>
<text transform="translate(57.50,70.55) scale(1,1.05)" class="ty" text-anchor="end">5,000</text>
<text transform="translate(57.50,26.95) scale(1,1.05)" class="ty" text-anchor="end">10,000</text>
<text transform="translate(62.20,116.70) scale(1,1.0)" class="tx" text-anchor="middle">10</text>
<text transform="translate(141.50,116.70) scale(1,1.0)" class="tx" text-anchor="middle">10<tspan class="sup" dy="-4.0">2</tspan></text>
<text transform="translate(220.00,116.70) scale(1,1.0)" class="tx" text-anchor="middle">10<tspan class="sup" dy="-4.0">3</tspan></text>
<text transform="translate(298.50,116.70) scale(1,1.0)" class="tx" text-anchor="middle">10<tspan class="sup" dy="-4.0">4</tspan></text>
<text transform="translate(377.00,116.70) scale(1,1.0)" class="tx" text-anchor="middle">10<tspan class="sup" dy="-4.0">5</tspan></text>
<text transform="translate(231.10,132.80) scale(1,1.08)" class="tr" text-anchor="middle">Rigidity (GV)</text>
<text x="0.1" y="6.9" class="L">a</text>
<text transform="translate(9.6,54.80) rotate(-90)" text-anchor="middle" class="t">Flux × <tspan font-style="italic">R</tspan><tspan class="sup" dy="-4.2">2.6</tspan></text>
<text transform="translate(20.6,54.30) rotate(-90)" text-anchor="middle" class="t">(m<tspan class="sup2" dy="-3.4">−2</tspan><tspan dy="3.4"> sr</tspan><tspan class="sup2" dy="-3.4">−1</tspan><tspan dy="3.4"> s</tspan><tspan class="sup2" dy="-3.4">−1</tspan><tspan dy="3.4"> GV</tspan><tspan class="sup2" dy="-3.4">1.6</tspan><tspan dy="3.4">)</tspan></text>
<path d="M61.9 141.20V238.50" fill="none" stroke="#b0b0b0" stroke-width="1.9"/>
<path d="M61.2 238.50H401" fill="none" stroke="#7a7a7a" stroke-width="1.1"/>
<path d="M62.6 233.12h2.5" stroke="#5e5e5e" stroke-width="0.95"/>
<path d="M62.6 228.00h5.5" stroke="#5e5e5e" stroke-width="0.95"/>
<path d="M62.6 222.88h2.5" stroke="#5e5e5e" stroke-width="0.95"/>
<path d="M62.6 217.76h2.5" stroke="#5e5e5e" stroke-width="0.95"/>
<path d="M62.6 212.64h2.5" stroke="#5e5e5e" stroke-width="0.95"/>
<path d="M62.6 207.52h2.5" stroke="#5e5e5e" stroke-width="0.95"/>
<path d="M62.6 202.40h5.5" stroke="#5e5e5e" stroke-width="0.95"/>
<path d="M62.6 197.28h2.5" stroke="#5e5e5e" stroke-width="0.95"/>
<path d="M62.6 192.16h2.5" stroke="#5e5e5e" stroke-width="0.95"/>
<path d="M62.6 187.04h2.5" stroke="#5e5e5e" stroke-width="0.95"/>
<path d="M62.6 181.92h2.5" stroke="#5e5e5e" stroke-width="0.95"/>
<path d="M62.6 176.80h5.5" stroke="#5e5e5e" stroke-width="0.95"/>
<path d="M62.6 171.68h2.5" stroke="#5e5e5e" stroke-width="0.95"/>
<path d="M62.6 166.56h2.5" stroke="#5e5e5e" stroke-width="0.95"/>
<path d="M62.6 161.44h2.5" stroke="#5e5e5e" stroke-width="0.95"/>
<path d="M62.6 156.32h2.5" stroke="#5e5e5e" stroke-width="0.95"/>
<path d="M62.6 151.20h5.5" stroke="#5e5e5e" stroke-width="0.95"/>
<path d="M62.6 146.08h2.5" stroke="#5e5e5e" stroke-width="0.95"/>
<path d="M62.6 140.96h2.5" stroke="#5e5e5e" stroke-width="0.95"/>
<path d="M86.13 238.50v-2.0" stroke="#5e5e5e" stroke-width="0.95"/>
<path d="M99.95 238.50v-2.0" stroke="#5e5e5e" stroke-width="0.95"/>
<path d="M109.76 238.50v-2.0" stroke="#5e5e5e" stroke-width="0.95"/>
<path d="M117.37 238.50v-2.0" stroke="#5e5e5e" stroke-width="0.95"/>
<path d="M123.58 238.50v-2.0" stroke="#5e5e5e" stroke-width="0.95"/>
<path d="M128.84 238.50v-2.0" stroke="#5e5e5e" stroke-width="0.95"/>
<path d="M133.39 238.50v-2.0" stroke="#5e5e5e" stroke-width="0.95"/>
<path d="M137.41 238.50v-2.0" stroke="#5e5e5e" stroke-width="0.95"/>
<path d="M141.00 238.50v-3.5" stroke="#5e5e5e" stroke-width="0.95"/>
<path d="M164.63 238.50v-2.0" stroke="#5e5e5e" stroke-width="0.95"/>
<path d="M178.45 238.50v-2.0" stroke="#5e5e5e" stroke-width="0.95"/>
<path d="M188.26 238.50v-2.0" stroke="#5e5e5e" stroke-width="0.95"/>
<path d="M195.87 238.50v-2.0" stroke="#5e5e5e" stroke-width="0.95"/>
<path d="M202.08 238.50v-2.0" stroke="#5e5e5e" stroke-width="0.95"/>
<path d="M207.34 238.50v-2.0" stroke="#5e5e5e" stroke-width="0.95"/>
<path d="M211.89 238.50v-2.0" stroke="#5e5e5e" stroke-width="0.95"/>
<path d="M215.91 238.50v-2.0" stroke="#5e5e5e" stroke-width="0.95"/>
<path d="M219.50 238.50v-3.5" stroke="#5e5e5e" stroke-width="0.95"/>
<path d="M243.13 238.50v-2.0" stroke="#5e5e5e" stroke-width="0.95"/>
<path d="M256.95 238.50v-2.0" stroke="#5e5e5e" stroke-width="0.95"/>
<path d="M266.76 238.50v-2.0" stroke="#5e5e5e" stroke-width="0.95"/>
<path d="M274.37 238.50v-2.0" stroke="#5e5e5e" stroke-width="0.95"/>
<path d="M280.58 238.50v-2.0" stroke="#5e5e5e" stroke-width="0.95"/>
<path d="M285.84 238.50v-2.0" stroke="#5e5e5e" stroke-width="0.95"/>
<path d="M290.39 238.50v-2.0" stroke="#5e5e5e" stroke-width="0.95"/>
<path d="M294.41 238.50v-2.0" stroke="#5e5e5e" stroke-width="0.95"/>
<path d="M298.00 238.50v-3.5" stroke="#5e5e5e" stroke-width="0.95"/>
<path d="M321.63 238.50v-2.0" stroke="#5e5e5e" stroke-width="0.95"/>
<path d="M335.45 238.50v-2.0" stroke="#5e5e5e" stroke-width="0.95"/>
<path d="M345.26 238.50v-2.0" stroke="#5e5e5e" stroke-width="0.95"/>
<path d="M352.87 238.50v-2.0" stroke="#5e5e5e" stroke-width="0.95"/>
<path d="M359.08 238.50v-2.0" stroke="#5e5e5e" stroke-width="0.95"/>
<path d="M364.34 238.50v-2.0" stroke="#5e5e5e" stroke-width="0.95"/>
<path d="M368.89 238.50v-2.0" stroke="#5e5e5e" stroke-width="0.95"/>
<path d="M372.91 238.50v-2.0" stroke="#5e5e5e" stroke-width="0.95"/>
<path d="M376.50 238.50v-3.5" stroke="#5e5e5e" stroke-width="0.95"/>
<path d="M400.13 238.50v-2.0" stroke="#5e5e5e" stroke-width="0.95"/>
<text transform="translate(57.30,231.05) scale(1,1.05)" class="ty" text-anchor="end">1,000</text>
<text transform="translate(57.30,205.45) scale(1,1.05)" class="ty" text-anchor="end">1,500</text>
<text transform="translate(57.30,179.85) scale(1,1.05)" class="ty" text-anchor="end">2,000</text>
<text transform="translate(57.30,154.25) scale(1,1.05)" class="ty" text-anchor="end">2,500</text>
<text transform="translate(62.20,252.40) scale(1,1.0)" class="tx" text-anchor="middle">10</text>
<text transform="translate(141.50,252.40) scale(1,1.0)" class="tx" text-anchor="middle">10<tspan class="sup" dy="-4.0">2</tspan></text>
<text transform="translate(220.00,252.40) scale(1,1.0)" class="tx" text-anchor="middle">10<tspan class="sup" dy="-4.0">3</tspan></text>
<text transform="translate(298.50,252.40) scale(1,1.0)" class="tx" text-anchor="middle">10<tspan class="sup" dy="-4.0">4</tspan></text>
<text transform="translate(377.00,252.40) scale(1,1.0)" class="tx" text-anchor="middle">10<tspan class="sup" dy="-4.0">5</tspan></text>
<text transform="translate(231.10,268.50) scale(1,1.08)" class="tr" text-anchor="middle">Rigidity (GV)</text>
<text x="0.1" y="142.4" class="L">b</text>
<text transform="translate(9.6,190.35) rotate(-90)" text-anchor="middle" class="t">Flux × <tspan font-style="italic">R</tspan><tspan class="sup" dy="-4.2">2.6</tspan></text>
<text transform="translate(20.3,189.85) rotate(-90)" text-anchor="middle" class="t">(m<tspan class="sup2" dy="-3.4">−2</tspan><tspan dy="3.4"> sr</tspan><tspan class="sup2" dy="-3.4">−1</tspan><tspan dy="3.4"> s</tspan><tspan class="sup2" dy="-3.4">−1</tspan><tspan dy="3.4"> GV</tspan><tspan class="sup2" dy="-3.4">1.6</tspan><tspan dy="3.4">)</tspan></text>
<path d="M61.9 276.30V373.60" fill="none" stroke="#b0b0b0" stroke-width="1.9"/>
<path d="M61.2 373.60H401" fill="none" stroke="#7a7a7a" stroke-width="1.1"/>
<path d="M62.6 369.03h2.5" stroke="#5e5e5e" stroke-width="0.95"/>
<path d="M62.6 364.17h5.5" stroke="#5e5e5e" stroke-width="0.95"/>
<path d="M62.6 359.30h2.5" stroke="#5e5e5e" stroke-width="0.95"/>
<path d="M62.6 354.44h2.5" stroke="#5e5e5e" stroke-width="0.95"/>
<path d="M62.6 349.57h2.5" stroke="#5e5e5e" stroke-width="0.95"/>
<path d="M62.6 344.71h5.5" stroke="#5e5e5e" stroke-width="0.95"/>
<path d="M62.6 339.84h2.5" stroke="#5e5e5e" stroke-width="0.95"/>
<path d="M62.6 334.98h2.5" stroke="#5e5e5e" stroke-width="0.95"/>
<path d="M62.6 330.12h2.5" stroke="#5e5e5e" stroke-width="0.95"/>
<path d="M62.6 325.25h5.5" stroke="#5e5e5e" stroke-width="0.95"/>
<path d="M62.6 320.38h2.5" stroke="#5e5e5e" stroke-width="0.95"/>
<path d="M62.6 315.52h2.5" stroke="#5e5e5e" stroke-width="0.95"/>
<path d="M62.6 310.65h2.5" stroke="#5e5e5e" stroke-width="0.95"/>
<path d="M62.6 305.79h5.5" stroke="#5e5e5e" stroke-width="0.95"/>
<path d="M62.6 300.92h2.5" stroke="#5e5e5e" stroke-width="0.95"/>
<path d="M62.6 296.06h2.5" stroke="#5e5e5e" stroke-width="0.95"/>
<path d="M62.6 291.19h2.5" stroke="#5e5e5e" stroke-width="0.95"/>
<path d="M62.6 286.33h5.5" stroke="#5e5e5e" stroke-width="0.95"/>
<path d="M62.6 281.46h2.5" stroke="#5e5e5e" stroke-width="0.95"/>
<path d="M62.6 276.60h2.5" stroke="#5e5e5e" stroke-width="0.95"/>
<path d="M86.13 373.60v-2.0" stroke="#5e5e5e" stroke-width="0.95"/>
<path d="M99.95 373.60v-2.0" stroke="#5e5e5e" stroke-width="0.95"/>
<path d="M109.76 373.60v-2.0" stroke="#5e5e5e" stroke-width="0.95"/>
<path d="M117.37 373.60v-2.0" stroke="#5e5e5e" stroke-width="0.95"/>
<path d="M123.58 373.60v-2.0" stroke="#5e5e5e" stroke-width="0.95"/>
<path d="M128.84 373.60v-2.0" stroke="#5e5e5e" stroke-width="0.95"/>
<path d="M133.39 373.60v-2.0" stroke="#5e5e5e" stroke-width="0.95"/>
<path d="M137.41 373.60v-2.0" stroke="#5e5e5e" stroke-width="0.95"/>
<path d="M141.00 373.60v-3.5" stroke="#5e5e5e" stroke-width="0.95"/>
<path d="M164.63 373.60v-2.0" stroke="#5e5e5e" stroke-width="0.95"/>
<path d="M178.45 373.60v-2.0" stroke="#5e5e5e" stroke-width="0.95"/>
<path d="M188.26 373.60v-2.0" stroke="#5e5e5e" stroke-width="0.95"/>
<path d="M195.87 373.60v-2.0" stroke="#5e5e5e" stroke-width="0.95"/>
<path d="M202.08 373.60v-2.0" stroke="#5e5e5e" stroke-width="0.95"/>
<path d="M207.34 373.60v-2.0" stroke="#5e5e5e" stroke-width="0.95"/>
<path d="M211.89 373.60v-2.0" stroke="#5e5e5e" stroke-width="0.95"/>
<path d="M215.91 373.60v-2.0" stroke="#5e5e5e" stroke-width="0.95"/>
<path d="M219.50 373.60v-3.5" stroke="#5e5e5e" stroke-width="0.95"/>
<path d="M243.13 373.60v-2.0" stroke="#5e5e5e" stroke-width="0.95"/>
<path d="M256.95 373.60v-2.0" stroke="#5e5e5e" stroke-width="0.95"/>
<path d="M266.76 373.60v-2.0" stroke="#5e5e5e" stroke-width="0.95"/>
<path d="M274.37 373.60v-2.0" stroke="#5e5e5e" stroke-width="0.95"/>
<path d="M280.58 373.60v-2.0" stroke="#5e5e5e" stroke-width="0.95"/>
<path d="M285.84 373.60v-2.0" stroke="#5e5e5e" stroke-width="0.95"/>
<path d="M290.39 373.60v-2.0" stroke="#5e5e5e" stroke-width="0.95"/>
<path d="M294.41 373.60v-2.0" stroke="#5e5e5e" stroke-width="0.95"/>
<path d="M298.00 373.60v-3.5" stroke="#5e5e5e" stroke-width="0.95"/>
<path d="M321.63 373.60v-2.0" stroke="#5e5e5e" stroke-width="0.95"/>
<path d="M335.45 373.60v-2.0" stroke="#5e5e5e" stroke-width="0.95"/>
<path d="M345.26 373.60v-2.0" stroke="#5e5e5e" stroke-width="0.95"/>
<path d="M352.87 373.60v-2.0" stroke="#5e5e5e" stroke-width="0.95"/>
<path d="M359.08 373.60v-2.0" stroke="#5e5e5e" stroke-width="0.95"/>
<path d="M364.34 373.60v-2.0" stroke="#5e5e5e" stroke-width="0.95"/>
<path d="M368.89 373.60v-2.0" stroke="#5e5e5e" stroke-width="0.95"/>
<path d="M372.91 373.60v-2.0" stroke="#5e5e5e" stroke-width="0.95"/>
<path d="M376.50 373.60v-3.5" stroke="#5e5e5e" stroke-width="0.95"/>
<path d="M400.13 373.60v-2.0" stroke="#5e5e5e" stroke-width="0.95"/>
<text transform="translate(57.30,367.52) scale(1,1.05)" class="ty" text-anchor="end">20</text>
<text transform="translate(57.30,348.06) scale(1,1.05)" class="ty" text-anchor="end">40</text>
<text transform="translate(57.30,328.60) scale(1,1.05)" class="ty" text-anchor="end">60</text>
<text transform="translate(57.30,309.14) scale(1,1.05)" class="ty" text-anchor="end">80</text>
<text transform="translate(57.30,289.68) scale(1,1.05)" class="ty" text-anchor="end">100</text>
<text transform="translate(62.20,387.50) scale(1,1.0)" class="tx" text-anchor="middle">10</text>
<text transform="translate(141.50,387.50) scale(1,1.0)" class="tx" text-anchor="middle">10<tspan class="sup" dy="-4.0">2</tspan></text>
<text transform="translate(220.00,387.50) scale(1,1.0)" class="tx" text-anchor="middle">10<tspan class="sup" dy="-4.0">3</tspan></text>
<text transform="translate(298.50,387.50) scale(1,1.0)" class="tx" text-anchor="middle">10<tspan class="sup" dy="-4.0">4</tspan></text>
<text transform="translate(377.00,387.50) scale(1,1.0)" class="tx" text-anchor="middle">10<tspan class="sup" dy="-4.0">5</tspan></text>
<text transform="translate(231.10,403.60) scale(1,1.08)" class="tr" text-anchor="middle">Rigidity (GV)</text>
<text x="0.1" y="279.6" class="L">c</text>
<text transform="translate(22.9,325.45) rotate(-90)" text-anchor="middle" class="t">Flux × <tspan font-style="italic">R</tspan><tspan class="sup" dy="-4.2">2.6</tspan></text>
<text transform="translate(33.6,324.95) rotate(-90)" text-anchor="middle" class="t">(m<tspan class="sup2" dy="-3.4">−2</tspan><tspan dy="3.4"> sr</tspan><tspan class="sup2" dy="-3.4">−1</tspan><tspan dy="3.4"> s</tspan><tspan class="sup2" dy="-3.4">−1</tspan><tspan dy="3.4"> GV</tspan><tspan class="sup2" dy="-3.4">1.6</tspan><tspan dy="3.4">)</tspan></text>
<path d="M61.9 411.30V508.60" fill="none" stroke="#b0b0b0" stroke-width="1.9"/>
<path d="M61.2 508.60H401" fill="none" stroke="#7a7a7a" stroke-width="1.1"/>
<path d="M62.6 504.03h2.5" stroke="#5e5e5e" stroke-width="0.95"/>
<path d="M62.6 499.17h5.5" stroke="#5e5e5e" stroke-width="0.95"/>
<path d="M62.6 494.30h2.5" stroke="#5e5e5e" stroke-width="0.95"/>
<path d="M62.6 489.44h2.5" stroke="#5e5e5e" stroke-width="0.95"/>
<path d="M62.6 484.57h2.5" stroke="#5e5e5e" stroke-width="0.95"/>
<path d="M62.6 479.71h5.5" stroke="#5e5e5e" stroke-width="0.95"/>
<path d="M62.6 474.84h2.5" stroke="#5e5e5e" stroke-width="0.95"/>
<path d="M62.6 469.98h2.5" stroke="#5e5e5e" stroke-width="0.95"/>
<path d="M62.6 465.12h2.5" stroke="#5e5e5e" stroke-width="0.95"/>
<path d="M62.6 460.25h5.5" stroke="#5e5e5e" stroke-width="0.95"/>
<path d="M62.6 455.38h2.5" stroke="#5e5e5e" stroke-width="0.95"/>
<path d="M62.6 450.52h2.5" stroke="#5e5e5e" stroke-width="0.95"/>
<path d="M62.6 445.65h2.5" stroke="#5e5e5e" stroke-width="0.95"/>
<path d="M62.6 440.79h5.5" stroke="#5e5e5e" stroke-width="0.95"/>
<path d="M62.6 435.92h2.5" stroke="#5e5e5e" stroke-width="0.95"/>
<path d="M62.6 431.06h2.5" stroke="#5e5e5e" stroke-width="0.95"/>
<path d="M62.6 426.19h2.5" stroke="#5e5e5e" stroke-width="0.95"/>
<path d="M62.6 421.33h5.5" stroke="#5e5e5e" stroke-width="0.95"/>
<path d="M62.6 416.46h2.5" stroke="#5e5e5e" stroke-width="0.95"/>
<path d="M62.6 411.60h2.5" stroke="#5e5e5e" stroke-width="0.95"/>
<path d="M86.13 508.60v-2.0" stroke="#5e5e5e" stroke-width="0.95"/>
<path d="M99.95 508.60v-2.0" stroke="#5e5e5e" stroke-width="0.95"/>
<path d="M109.76 508.60v-2.0" stroke="#5e5e5e" stroke-width="0.95"/>
<path d="M117.37 508.60v-2.0" stroke="#5e5e5e" stroke-width="0.95"/>
<path d="M123.58 508.60v-2.0" stroke="#5e5e5e" stroke-width="0.95"/>
<path d="M128.84 508.60v-2.0" stroke="#5e5e5e" stroke-width="0.95"/>
<path d="M133.39 508.60v-2.0" stroke="#5e5e5e" stroke-width="0.95"/>
<path d="M137.41 508.60v-2.0" stroke="#5e5e5e" stroke-width="0.95"/>
<path d="M141.00 508.60v-3.5" stroke="#5e5e5e" stroke-width="0.95"/>
<path d="M164.63 508.60v-2.0" stroke="#5e5e5e" stroke-width="0.95"/>
<path d="M178.45 508.60v-2.0" stroke="#5e5e5e" stroke-width="0.95"/>
<path d="M188.26 508.60v-2.0" stroke="#5e5e5e" stroke-width="0.95"/>
<path d="M195.87 508.60v-2.0" stroke="#5e5e5e" stroke-width="0.95"/>
<path d="M202.08 508.60v-2.0" stroke="#5e5e5e" stroke-width="0.95"/>
<path d="M207.34 508.60v-2.0" stroke="#5e5e5e" stroke-width="0.95"/>
<path d="M211.89 508.60v-2.0" stroke="#5e5e5e" stroke-width="0.95"/>
<path d="M215.91 508.60v-2.0" stroke="#5e5e5e" stroke-width="0.95"/>
<path d="M219.50 508.60v-3.5" stroke="#5e5e5e" stroke-width="0.95"/>
<path d="M243.13 508.60v-2.0" stroke="#5e5e5e" stroke-width="0.95"/>
<path d="M256.95 508.60v-2.0" stroke="#5e5e5e" stroke-width="0.95"/>
<path d="M266.76 508.60v-2.0" stroke="#5e5e5e" stroke-width="0.95"/>
<path d="M274.37 508.60v-2.0" stroke="#5e5e5e" stroke-width="0.95"/>
<path d="M280.58 508.60v-2.0" stroke="#5e5e5e" stroke-width="0.95"/>
<path d="M285.84 508.60v-2.0" stroke="#5e5e5e" stroke-width="0.95"/>
<path d="M290.39 508.60v-2.0" stroke="#5e5e5e" stroke-width="0.95"/>
<path d="M294.41 508.60v-2.0" stroke="#5e5e5e" stroke-width="0.95"/>
<path d="M298.00 508.60v-3.5" stroke="#5e5e5e" stroke-width="0.95"/>
<path d="M321.63 508.60v-2.0" stroke="#5e5e5e" stroke-width="0.95"/>
<path d="M335.45 508.60v-2.0" stroke="#5e5e5e" stroke-width="0.95"/>
<path d="M345.26 508.60v-2.0" stroke="#5e5e5e" stroke-width="0.95"/>
<path d="M352.87 508.60v-2.0" stroke="#5e5e5e" stroke-width="0.95"/>
<path d="M359.08 508.60v-2.0" stroke="#5e5e5e" stroke-width="0.95"/>
<path d="M364.34 508.60v-2.0" stroke="#5e5e5e" stroke-width="0.95"/>
<path d="M368.89 508.60v-2.0" stroke="#5e5e5e" stroke-width="0.95"/>
<path d="M372.91 508.60v-2.0" stroke="#5e5e5e" stroke-width="0.95"/>
<path d="M376.50 508.60v-3.5" stroke="#5e5e5e" stroke-width="0.95"/>
<path d="M400.13 508.60v-2.0" stroke="#5e5e5e" stroke-width="0.95"/>
<text transform="translate(57.30,502.52) scale(1,1.05)" class="ty" text-anchor="end">20</text>
<text transform="translate(57.30,483.06) scale(1,1.05)" class="ty" text-anchor="end">40</text>
<text transform="translate(57.30,463.60) scale(1,1.05)" class="ty" text-anchor="end">60</text>
<text transform="translate(57.30,444.14) scale(1,1.05)" class="ty" text-anchor="end">80</text>
<text transform="translate(57.30,424.68) scale(1,1.05)" class="ty" text-anchor="end">100</text>
<text transform="translate(62.20,522.50) scale(1,1.0)" class="tx" text-anchor="middle">10</text>
<text transform="translate(141.50,522.50) scale(1,1.0)" class="tx" text-anchor="middle">10<tspan class="sup" dy="-4.0">2</tspan></text>
<text transform="translate(220.00,522.50) scale(1,1.0)" class="tx" text-anchor="middle">10<tspan class="sup" dy="-4.0">3</tspan></text>
<text transform="translate(298.50,522.50) scale(1,1.0)" class="tx" text-anchor="middle">10<tspan class="sup" dy="-4.0">4</tspan></text>
<text transform="translate(377.00,522.50) scale(1,1.0)" class="tx" text-anchor="middle">10<tspan class="sup" dy="-4.0">5</tspan></text>
<text transform="translate(231.10,538.60) scale(1,1.08)" class="tr" text-anchor="middle">Rigidity (GV)</text>
<text x="0.1" y="413.8" class="L">d</text>
<text transform="translate(22.9,460.45) rotate(-90)" text-anchor="middle" class="t">Flux × <tspan font-style="italic">R</tspan><tspan class="sup" dy="-4.2">2.6</tspan></text>
<text transform="translate(33.6,459.95) rotate(-90)" text-anchor="middle" class="t">(m<tspan class="sup2" dy="-3.4">−2</tspan><tspan dy="3.4"> sr</tspan><tspan class="sup2" dy="-3.4">−1</tspan><tspan dy="3.4"> s</tspan><tspan class="sup2" dy="-3.4">−1</tspan><tspan dy="3.4"> GV</tspan><tspan class="sup2" dy="-3.4">1.6</tspan><tspan dy="3.4">)</tspan></text>
<path d="M61.9 551.70V652.80" fill="none" stroke="#b0b0b0" stroke-width="1.9"/>
<path d="M61.2 652.80H401" fill="none" stroke="#7a7a7a" stroke-width="1.1"/>
<path d="M62.6 647.41h2.5" stroke="#5e5e5e" stroke-width="0.95"/>
<path d="M62.6 641.42h2.5" stroke="#5e5e5e" stroke-width="0.95"/>
<path d="M62.6 635.43h2.5" stroke="#5e5e5e" stroke-width="0.95"/>
<path d="M62.6 629.44h2.5" stroke="#5e5e5e" stroke-width="0.95"/>
<path d="M62.6 623.45h5.5" stroke="#5e5e5e" stroke-width="0.95"/>
<path d="M62.6 617.46h2.5" stroke="#5e5e5e" stroke-width="0.95"/>
<path d="M62.6 611.47h2.5" stroke="#5e5e5e" stroke-width="0.95"/>
<path d="M62.6 605.48h2.5" stroke="#5e5e5e" stroke-width="0.95"/>
<path d="M62.6 599.49h2.5" stroke="#5e5e5e" stroke-width="0.95"/>
<path d="M62.6 593.50h5.5" stroke="#5e5e5e" stroke-width="0.95"/>
<path d="M62.6 587.51h2.5" stroke="#5e5e5e" stroke-width="0.95"/>
<path d="M62.6 581.52h2.5" stroke="#5e5e5e" stroke-width="0.95"/>
<path d="M62.6 575.53h2.5" stroke="#5e5e5e" stroke-width="0.95"/>
<path d="M62.6 569.54h2.5" stroke="#5e5e5e" stroke-width="0.95"/>
<path d="M62.6 563.55h5.5" stroke="#5e5e5e" stroke-width="0.95"/>
<path d="M62.6 557.56h2.5" stroke="#5e5e5e" stroke-width="0.95"/>
<path d="M62.6 551.57h2.5" stroke="#5e5e5e" stroke-width="0.95"/>
<path d="M86.13 652.80v-2.0" stroke="#5e5e5e" stroke-width="0.95"/>
<path d="M99.95 652.80v-2.0" stroke="#5e5e5e" stroke-width="0.95"/>
<path d="M109.76 652.80v-2.0" stroke="#5e5e5e" stroke-width="0.95"/>
<path d="M117.37 652.80v-2.0" stroke="#5e5e5e" stroke-width="0.95"/>
<path d="M123.58 652.80v-2.0" stroke="#5e5e5e" stroke-width="0.95"/>
<path d="M128.84 652.80v-2.0" stroke="#5e5e5e" stroke-width="0.95"/>
<path d="M133.39 652.80v-2.0" stroke="#5e5e5e" stroke-width="0.95"/>
<path d="M137.41 652.80v-2.0" stroke="#5e5e5e" stroke-width="0.95"/>
<path d="M141.00 652.80v-3.5" stroke="#5e5e5e" stroke-width="0.95"/>
<path d="M164.63 652.80v-2.0" stroke="#5e5e5e" stroke-width="0.95"/>
<path d="M178.45 652.80v-2.0" stroke="#5e5e5e" stroke-width="0.95"/>
<path d="M188.26 652.80v-2.0" stroke="#5e5e5e" stroke-width="0.95"/>
<path d="M195.87 652.80v-2.0" stroke="#5e5e5e" stroke-width="0.95"/>
<path d="M202.08 652.80v-2.0" stroke="#5e5e5e" stroke-width="0.95"/>
<path d="M207.34 652.80v-2.0" stroke="#5e5e5e" stroke-width="0.95"/>
<path d="M211.89 652.80v-2.0" stroke="#5e5e5e" stroke-width="0.95"/>
<path d="M215.91 652.80v-2.0" stroke="#5e5e5e" stroke-width="0.95"/>
<path d="M219.50 652.80v-3.5" stroke="#5e5e5e" stroke-width="0.95"/>
<path d="M243.13 652.80v-2.0" stroke="#5e5e5e" stroke-width="0.95"/>
<path d="M256.95 652.80v-2.0" stroke="#5e5e5e" stroke-width="0.95"/>
<path d="M266.76 652.80v-2.0" stroke="#5e5e5e" stroke-width="0.95"/>
<path d="M274.37 652.80v-2.0" stroke="#5e5e5e" stroke-width="0.95"/>
<path d="M280.58 652.80v-2.0" stroke="#5e5e5e" stroke-width="0.95"/>
<path d="M285.84 652.80v-2.0" stroke="#5e5e5e" stroke-width="0.95"/>
<path d="M290.39 652.80v-2.0" stroke="#5e5e5e" stroke-width="0.95"/>
<path d="M294.41 652.80v-2.0" stroke="#5e5e5e" stroke-width="0.95"/>
<path d="M298.00 652.80v-3.5" stroke="#5e5e5e" stroke-width="0.95"/>
<path d="M321.63 652.80v-2.0" stroke="#5e5e5e" stroke-width="0.95"/>
<path d="M335.45 652.80v-2.0" stroke="#5e5e5e" stroke-width="0.95"/>
<path d="M345.26 652.80v-2.0" stroke="#5e5e5e" stroke-width="0.95"/>
<path d="M352.87 652.80v-2.0" stroke="#5e5e5e" stroke-width="0.95"/>
<path d="M359.08 652.80v-2.0" stroke="#5e5e5e" stroke-width="0.95"/>
<path d="M364.34 652.80v-2.0" stroke="#5e5e5e" stroke-width="0.95"/>
<path d="M368.89 652.80v-2.0" stroke="#5e5e5e" stroke-width="0.95"/>
<path d="M372.91 652.80v-2.0" stroke="#5e5e5e" stroke-width="0.95"/>
<path d="M376.50 652.80v-3.5" stroke="#5e5e5e" stroke-width="0.95"/>
<path d="M400.13 652.80v-2.0" stroke="#5e5e5e" stroke-width="0.95"/>
<text transform="translate(57.30,656.85) scale(1,1.05)" class="ty" text-anchor="end">0</text>
<text transform="translate(57.30,626.90) scale(1,1.05)" class="ty" text-anchor="end">5</text>
<text transform="translate(57.30,596.95) scale(1,1.05)" class="ty" text-anchor="end">10</text>
<text transform="translate(57.30,567.00) scale(1,1.05)" class="ty" text-anchor="end">15</text>
<text transform="translate(62.20,666.70) scale(1,1.0)" class="tx" text-anchor="middle">10</text>
<text transform="translate(141.50,666.70) scale(1,1.0)" class="tx" text-anchor="middle">10<tspan class="sup" dy="-4.0">2</tspan></text>
<text transform="translate(220.00,666.70) scale(1,1.0)" class="tx" text-anchor="middle">10<tspan class="sup" dy="-4.0">3</tspan></text>
<text transform="translate(298.50,666.70) scale(1,1.0)" class="tx" text-anchor="middle">10<tspan class="sup" dy="-4.0">4</tspan></text>
<text transform="translate(377.00,666.70) scale(1,1.0)" class="tx" text-anchor="middle">10<tspan class="sup" dy="-4.0">5</tspan></text>
<text transform="translate(231.10,682.80) scale(1,1.08)" class="tr" text-anchor="middle">Rigidity (GV)</text>
<text x="0.1" y="554.6" class="L">e</text>
<text transform="translate(26.2,602.75) rotate(-90)" text-anchor="middle" class="t">Flux × <tspan font-style="italic">R</tspan><tspan class="sup" dy="-4.2">2.6</tspan></text>
<text transform="translate(37.0,602.25) rotate(-90)" text-anchor="middle" class="t">(m<tspan class="sup2" dy="-3.4">−2</tspan><tspan dy="3.4"> sr</tspan><tspan class="sup2" dy="-3.4">−1</tspan><tspan dy="3.4"> s</tspan><tspan class="sup2" dy="-3.4">−1</tspan><tspan dy="3.4"> GV</tspan><tspan class="sup2" dy="-3.4">1.6</tspan><tspan dy="3.4">)</tspan></text>
<path d="M283.9 20.2h15" stroke="#000" stroke-width="1.2" stroke-dasharray="2.8,1.4"/>
<path d="M283.7 33.2h15" stroke="#000" stroke-width="1.3"/>
<text transform="translate(302.30,22.70) scale(1,1.15)" class="t3">SBPL fit of hardening</text>
<text transform="translate(302.30,35.90) scale(1,1.15)" class="t3">SBPL fit of softening</text>
<rect x="70.8" y="49.5" width="4.6" height="4.3" fill="none" stroke="#2727d6" stroke-width="0.95"/>
<path d="M73.1 58.6L75.4 62.0L73.1 65.4L70.8 62.0Z" fill="none" stroke="#ff22ff" stroke-width="1.0" stroke-linejoin="round"/>
<path d="M73.1 70.1L76.0 73.0L73.1 75.9L70.2 73.0Z" fill="none" stroke="#5fcf5f" stroke-width="0.9" stroke-linejoin="round"/>
<circle cx="73.1" cy="83.3" r="2.9" fill="#ff0000"/>
<rect x="67" y="90.2" width="12" height="7.6" fill="#c8c8c8"/>
<text transform="translate(83.20,54.60) scale(1,1.13)" class="t2">AMS-02</text>
<text transform="translate(83.20,65.30) scale(1,1.13)" class="t2">ISS-CREAM</text>
<text transform="translate(83.20,76.00) scale(1,1.13)" class="t2">CALET</text>
<text transform="translate(83.20,86.70) scale(1,1.13)" class="t2">DAMPE</text>
<text transform="translate(83.20,97.40) scale(1,1.13)" class="t2">Total (stat. + sys.) uncertainties</text>
</svg>
</body></html>
